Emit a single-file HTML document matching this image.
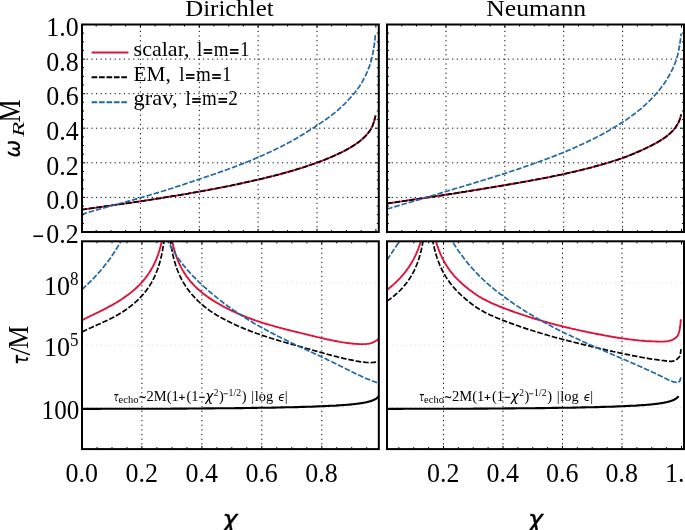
<!DOCTYPE html><html><head><meta charset="utf-8"><title>QNM plot</title>
<style>html,body{margin:0;padding:0;background:#fff}svg{display:block}text{font-family:"Liberation Serif",serif;fill:#000}.sf{font-family:"DejaVu Sans",sans-serif;font-style:italic}.sn{font-family:"DejaVu Sans",sans-serif}</style></head><body>
<svg width="685" height="530" viewBox="0 0 685 530">
<rect width="685" height="530" fill="#fff"/>
<defs>
<clipPath id="c0"><rect x="82.0" y="24.5" width="296.8" height="207.5"/></clipPath>
<clipPath id="c1"><rect x="387.0" y="24.5" width="297.0" height="207.5"/></clipPath>
<clipPath id="c2"><rect x="82.0" y="241.3" width="296.8" height="207.8"/></clipPath>
<clipPath id="c3"><rect x="387.0" y="241.3" width="297.0" height="207.8"/></clipPath>
</defs>
<path d="M140.4 232.0V24.5" stroke="#000" stroke-width="1" stroke-dasharray="1.2 3.45" fill="none"/>
<path d="M199.3 232.0V24.5" stroke="#000" stroke-width="1" stroke-dasharray="1.2 3.45" fill="none"/>
<path d="M258.1 232.0V24.5" stroke="#000" stroke-width="1" stroke-dasharray="1.2 3.45" fill="none"/>
<path d="M317.0 232.0V24.5" stroke="#000" stroke-width="1" stroke-dasharray="1.2 3.45" fill="none"/>
<path d="M446.0 232.0V24.5" stroke="#000" stroke-width="1" stroke-dasharray="1.2 3.45" fill="none"/>
<path d="M504.9 232.0V24.5" stroke="#000" stroke-width="1" stroke-dasharray="1.2 3.45" fill="none"/>
<path d="M563.7 232.0V24.5" stroke="#000" stroke-width="1" stroke-dasharray="1.2 3.45" fill="none"/>
<path d="M622.6 232.0V24.5" stroke="#000" stroke-width="1" stroke-dasharray="1.2 3.45" fill="none"/>
<path d="M141.9 449.1V241.3" stroke="#000" stroke-width="1" stroke-dasharray="1.2 3.45" fill="none"/>
<path d="M201.9 449.1V241.3" stroke="#000" stroke-width="1" stroke-dasharray="1.2 3.45" fill="none"/>
<path d="M261.8 449.1V241.3" stroke="#000" stroke-width="1" stroke-dasharray="1.2 3.45" fill="none"/>
<path d="M321.8 449.1V241.3" stroke="#000" stroke-width="1" stroke-dasharray="1.2 3.45" fill="none"/>
<path d="M443.5 449.1V241.3" stroke="#000" stroke-width="1" stroke-dasharray="1.2 3.45" fill="none"/>
<path d="M503.0 449.1V241.3" stroke="#000" stroke-width="1" stroke-dasharray="1.2 3.45" fill="none"/>
<path d="M562.5 449.1V241.3" stroke="#000" stroke-width="1" stroke-dasharray="1.2 3.45" fill="none"/>
<path d="M622.0 449.1V241.3" stroke="#000" stroke-width="1" stroke-dasharray="1.2 3.45" fill="none"/>
<path d="M82.0 197.4H378.8" stroke="#000" stroke-width="1" stroke-dasharray="1.2 3.45" fill="none"/>
<path d="M387.0 197.4H684.0" stroke="#000" stroke-width="1" stroke-dasharray="1.2 3.45" fill="none"/>
<path d="M82.0 162.8H378.8" stroke="#000" stroke-width="1" stroke-dasharray="1.2 3.45" fill="none"/>
<path d="M387.0 162.8H684.0" stroke="#000" stroke-width="1" stroke-dasharray="1.2 3.45" fill="none"/>
<path d="M82.0 128.2H378.8" stroke="#000" stroke-width="1" stroke-dasharray="1.2 3.45" fill="none"/>
<path d="M387.0 128.2H684.0" stroke="#000" stroke-width="1" stroke-dasharray="1.2 3.45" fill="none"/>
<path d="M82.0 93.7H378.8" stroke="#000" stroke-width="1" stroke-dasharray="1.2 3.45" fill="none"/>
<path d="M387.0 93.7H684.0" stroke="#000" stroke-width="1" stroke-dasharray="1.2 3.45" fill="none"/>
<path d="M82.0 59.1H378.8" stroke="#000" stroke-width="1" stroke-dasharray="1.2 3.45" fill="none"/>
<path d="M387.0 59.1H684.0" stroke="#000" stroke-width="1" stroke-dasharray="1.2 3.45" fill="none"/>
<path d="M82.0 407.5H378.8" stroke="#dcdcdc" stroke-width="1" stroke-dasharray="1.2 3.45" fill="none"/>
<path d="M387.0 407.5H684.0" stroke="#dcdcdc" stroke-width="1" stroke-dasharray="1.2 3.45" fill="none"/>
<path d="M82.0 345.2H378.8" stroke="#dcdcdc" stroke-width="1" stroke-dasharray="1.2 3.45" fill="none"/>
<path d="M387.0 345.2H684.0" stroke="#dcdcdc" stroke-width="1" stroke-dasharray="1.2 3.45" fill="none"/>
<path d="M82.0 282.9H378.8" stroke="#dcdcdc" stroke-width="1" stroke-dasharray="1.2 3.45" fill="none"/>
<path d="M387.0 282.9H684.0" stroke="#dcdcdc" stroke-width="1" stroke-dasharray="1.2 3.45" fill="none"/>
<path d="M81.5 209.7L83.3 209.4L85.1 209.2L86.8 208.9L88.6 208.7L90.4 208.4L92.2 208.2L93.9 207.9L95.7 207.7L97.5 207.4L99.3 207.2L101.1 206.9L102.8 206.7L104.6 206.4L106.4 206.1L108.2 205.9L110.0 205.6L111.7 205.4L113.5 205.1L115.3 204.9L117.1 204.6L118.8 204.4L120.6 204.1L122.4 203.9L124.2 203.6L126.0 203.4L127.7 203.1L129.5 202.9L131.3 202.6L133.1 202.4L134.8 202.1L136.6 201.8L138.4 201.6L140.2 201.3L142.0 201.0L143.7 200.8L145.5 200.5L147.3 200.2L149.1 199.9L150.9 199.7L152.6 199.4L154.4 199.1L156.2 198.8L158.0 198.5L159.7 198.3L161.5 198.0L163.3 197.7L165.1 197.4L166.9 197.1L168.6 196.8L170.4 196.5L172.2 196.2L174.0 195.9L175.7 195.7L177.5 195.4L179.3 195.1L181.1 194.8L182.9 194.5L184.6 194.2L186.4 193.9L188.2 193.6L190.0 193.2L191.8 192.9L193.5 192.6L195.3 192.3L197.1 192.0L198.9 191.7L200.6 191.4L202.4 191.0L204.2 190.7L206.0 190.4L207.8 190.1L209.5 189.7L211.3 189.4L213.1 189.1L214.9 188.7L216.6 188.4L218.4 188.0L220.2 187.7L222.0 187.3L223.8 187.0L225.5 186.6L227.3 186.3L229.1 185.9L230.9 185.6L232.7 185.2L234.4 184.8L236.2 184.5L238.0 184.1L239.8 183.7L241.5 183.3L243.3 182.9L245.1 182.5L246.9 182.1L248.7 181.7L250.4 181.3L252.2 180.9L254.0 180.5L255.8 180.1L257.5 179.7L259.3 179.3L261.1 178.9L262.9 178.5L264.7 178.0L266.4 177.6L268.2 177.2L270.0 176.7L271.8 176.3L273.6 175.8L275.3 175.4L277.1 174.9L278.9 174.5L280.7 174.0L282.4 173.5L284.2 173.0L286.0 172.5L287.8 172.0L289.6 171.5L291.3 171.0L293.1 170.5L294.9 170.0L296.7 169.4L298.4 168.9L300.2 168.3L302.0 167.8L303.8 167.2L305.6 166.6L307.3 166.0L309.1 165.4L310.9 164.8L312.7 164.2L314.5 163.6L316.2 162.9L318.0 162.3L319.8 161.6L321.6 161.0L323.3 160.3L325.1 159.6L326.9 158.8L328.7 158.1L330.5 157.3L332.2 156.6L334.0 155.8L335.8 155.0L337.6 154.2L339.3 153.3L341.1 152.5L342.9 151.6L344.7 150.7L346.5 149.7L346.8 149.6L347.1 149.4L347.4 149.2L347.7 149.1L347.9 148.9L348.2 148.7L348.5 148.6L348.8 148.4L349.1 148.2L349.4 148.1L349.7 147.9L350.0 147.7L350.3 147.5L350.6 147.4L350.9 147.2L351.2 147.0L351.5 146.8L351.8 146.6L352.1 146.5L352.4 146.3L352.7 146.1L353.0 145.9L353.3 145.7L353.6 145.5L353.9 145.3L354.2 145.1L354.5 144.9L354.8 144.8L355.1 144.6L355.4 144.4L355.7 144.1L356.0 143.9L356.3 143.7L356.6 143.5L356.9 143.3L357.2 143.1L357.5 142.9L357.8 142.7L358.1 142.5L358.4 142.2L358.7 142.0L359.0 141.8L359.3 141.6L359.6 141.3L359.9 141.1L360.2 140.9L360.5 140.6L360.7 140.4L361.0 140.1L361.3 139.9L361.6 139.6L361.9 139.4L362.2 139.1L362.5 138.8L362.8 138.6L363.1 138.3L363.4 138.0L363.7 137.8L364.0 137.5L364.3 137.2L364.6 136.9L364.9 136.6L365.2 136.3L365.5 136.0L365.8 135.7L366.1 135.4L366.4 135.0L366.7 134.7L367.0 134.4L367.3 134.0L367.6 133.6L367.9 133.3L368.2 132.9L368.5 132.5L368.8 132.1L369.1 131.7L369.4 131.3L369.7 130.9L370.0 130.4L370.3 130.0L370.6 129.5L370.9 129.0L371.2 128.5L371.5 127.9L371.8 127.4L372.1 126.7L372.4 126.1L372.7 125.4L373.0 124.6L373.0 124.5L373.0 124.4L373.1 124.3L373.1 124.2L373.1 124.1L373.2 124.0L373.2 123.9L373.2 123.8L373.3 123.7L373.3 123.6L373.4 123.5L373.4 123.4L373.4 123.3L373.5 123.2L373.5 123.1L373.5 123.0L373.6 122.9L373.6 122.8L373.7 122.7L373.7 122.6L373.7 122.5L373.8 122.4L373.8 122.3L373.8 122.2L373.9 122.0L373.9 121.9L373.9 121.8L374.0 121.7L374.0 121.6L374.1 121.5L374.1 121.4L374.1 121.2L374.2 121.1L374.2 121.0L374.2 120.9L374.3 120.8L374.3 120.6L374.4 120.5L374.4 120.4L374.4 120.3L374.5 120.1L374.5 120.0L374.5 119.9L374.6 119.7L374.6 119.6L374.6 119.5L374.7 119.3L374.7 119.2L374.8 119.0L374.8 118.9L374.8 118.7L374.9 118.6L374.9 118.4L374.9 118.3L375.0 118.1L375.0 118.0L375.0 117.8L375.1 117.6L375.1 117.5L375.2 117.3L375.2 117.1L375.2 116.9L375.3 116.8L375.3 116.6L375.3 116.4L375.4 116.2L375.4 116.0L375.5 115.7L375.5 115.5" fill="none" stroke="#dc143c" stroke-width="1.90" stroke-linejoin="round"  clip-path="url(#c0)"/>
<path d="M81.5 209.7L83.3 209.4L85.1 209.2L86.8 208.9L88.6 208.7L90.4 208.4L92.2 208.2L93.9 207.9L95.7 207.7L97.5 207.4L99.3 207.2L101.1 206.9L102.8 206.7L104.6 206.4L106.4 206.1L108.2 205.9L110.0 205.6L111.7 205.4L113.5 205.1L115.3 204.9L117.1 204.6L118.8 204.4L120.6 204.1L122.4 203.9L124.2 203.6L126.0 203.4L127.7 203.1L129.5 202.9L131.3 202.6L133.1 202.4L134.8 202.1L136.6 201.8L138.4 201.6L140.2 201.3L142.0 201.0L143.7 200.8L145.5 200.5L147.3 200.2L149.1 199.9L150.9 199.7L152.6 199.4L154.4 199.1L156.2 198.8L158.0 198.5L159.7 198.3L161.5 198.0L163.3 197.7L165.1 197.4L166.9 197.1L168.6 196.8L170.4 196.5L172.2 196.2L174.0 195.9L175.7 195.7L177.5 195.4L179.3 195.1L181.1 194.8L182.9 194.5L184.6 194.2L186.4 193.9L188.2 193.6L190.0 193.2L191.8 192.9L193.5 192.6L195.3 192.3L197.1 192.0L198.9 191.7L200.6 191.4L202.4 191.0L204.2 190.7L206.0 190.4L207.8 190.1L209.5 189.7L211.3 189.4L213.1 189.1L214.9 188.7L216.6 188.4L218.4 188.0L220.2 187.7L222.0 187.3L223.8 187.0L225.5 186.6L227.3 186.3L229.1 185.9L230.9 185.6L232.7 185.2L234.4 184.8L236.2 184.5L238.0 184.1L239.8 183.7L241.5 183.3L243.3 182.9L245.1 182.5L246.9 182.1L248.7 181.7L250.4 181.3L252.2 180.9L254.0 180.5L255.8 180.1L257.5 179.7L259.3 179.3L261.1 178.9L262.9 178.5L264.7 178.0L266.4 177.6L268.2 177.2L270.0 176.7L271.8 176.3L273.6 175.8L275.3 175.4L277.1 174.9L278.9 174.5L280.7 174.0L282.4 173.5L284.2 173.0L286.0 172.5L287.8 172.0L289.6 171.5L291.3 171.0L293.1 170.5L294.9 170.0L296.7 169.4L298.4 168.9L300.2 168.3L302.0 167.8L303.8 167.2L305.6 166.6L307.3 166.0L309.1 165.4L310.9 164.8L312.7 164.2L314.5 163.6L316.2 162.9L318.0 162.3L319.8 161.6L321.6 161.0L323.3 160.3L325.1 159.6L326.9 158.8L328.7 158.1L330.5 157.3L332.2 156.6L334.0 155.8L335.8 155.0L337.6 154.2L339.3 153.3L341.1 152.5L342.9 151.6L344.7 150.7L346.5 149.7L346.8 149.6L347.1 149.4L347.4 149.2L347.7 149.1L347.9 148.9L348.2 148.7L348.5 148.6L348.8 148.4L349.1 148.2L349.4 148.1L349.7 147.9L350.0 147.7L350.3 147.5L350.6 147.4L350.9 147.2L351.2 147.0L351.5 146.8L351.8 146.6L352.1 146.5L352.4 146.3L352.7 146.1L353.0 145.9L353.3 145.7L353.6 145.5L353.9 145.3L354.2 145.1L354.5 144.9L354.8 144.8L355.1 144.6L355.4 144.4L355.7 144.1L356.0 143.9L356.3 143.7L356.6 143.5L356.9 143.3L357.2 143.1L357.5 142.9L357.8 142.7L358.1 142.5L358.4 142.2L358.7 142.0L359.0 141.8L359.3 141.6L359.6 141.3L359.9 141.1L360.2 140.9L360.5 140.6L360.7 140.4L361.0 140.1L361.3 139.9L361.6 139.6L361.9 139.4L362.2 139.1L362.5 138.8L362.8 138.6L363.1 138.3L363.4 138.0L363.7 137.8L364.0 137.5L364.3 137.2L364.6 136.9L364.9 136.6L365.2 136.3L365.5 136.0L365.8 135.7L366.1 135.4L366.4 135.0L366.7 134.7L367.0 134.4L367.3 134.0L367.6 133.6L367.9 133.3L368.2 132.9L368.5 132.5L368.8 132.1L369.1 131.7L369.4 131.3L369.7 130.9L370.0 130.4L370.3 130.0L370.6 129.5L370.9 129.0L371.2 128.5L371.5 127.9L371.8 127.4L372.1 126.7L372.4 126.1L372.7 125.4L373.0 124.6L373.0 124.5L373.0 124.4L373.1 124.3L373.1 124.2L373.1 124.1L373.2 124.0L373.2 123.9L373.2 123.8L373.3 123.7L373.3 123.6L373.4 123.5L373.4 123.4L373.4 123.3L373.5 123.2L373.5 123.1L373.5 123.0L373.6 122.9L373.6 122.8L373.7 122.7L373.7 122.6L373.7 122.5L373.8 122.4L373.8 122.3L373.8 122.2L373.9 122.0L373.9 121.9L373.9 121.8L374.0 121.7L374.0 121.6L374.1 121.5L374.1 121.4L374.1 121.2L374.2 121.1L374.2 121.0L374.2 120.9L374.3 120.8L374.3 120.6L374.4 120.5L374.4 120.4L374.4 120.3L374.5 120.1L374.5 120.0L374.5 119.9L374.6 119.7L374.6 119.6L374.6 119.5L374.7 119.3L374.7 119.2L374.8 119.0L374.8 118.9L374.8 118.7L374.9 118.6L374.9 118.4L374.9 118.3L375.0 118.1L375.0 118.0L375.0 117.8L375.1 117.6L375.1 117.5L375.2 117.3L375.2 117.1L375.2 116.9L375.3 116.8L375.3 116.6L375.3 116.4L375.4 116.2L375.4 116.0L375.5 115.7L375.5 115.5" fill="none" stroke="#000" stroke-width="1.70" stroke-linejoin="round" stroke-dasharray="5.6 1.9" clip-path="url(#c0)"/>
<path d="M81.5 214.4L83.3 213.9L85.1 213.4L86.8 212.8L88.6 212.3L90.4 211.8L92.2 211.3L93.9 210.8L95.7 210.3L97.5 209.8L99.3 209.3L101.1 208.8L102.8 208.3L104.6 207.8L106.4 207.2L108.2 206.7L110.0 206.2L111.7 205.7L113.5 205.2L115.3 204.7L117.1 204.3L118.8 203.8L120.6 203.3L122.4 202.8L124.2 202.3L126.0 201.9L127.7 201.4L129.5 200.9L131.3 200.4L133.1 199.9L134.8 199.4L136.6 198.9L138.4 198.4L140.2 197.9L142.0 197.4L143.7 196.9L145.5 196.3L147.3 195.8L149.1 195.3L150.9 194.7L152.6 194.2L154.4 193.7L156.2 193.1L158.0 192.6L159.7 192.1L161.5 191.5L163.3 191.0L165.1 190.4L166.9 189.9L168.6 189.3L170.4 188.8L172.2 188.2L174.0 187.6L175.7 187.0L177.5 186.4L179.3 185.9L181.1 185.3L182.9 184.7L184.6 184.1L186.4 183.5L188.2 182.9L190.0 182.3L191.8 181.7L193.5 181.1L195.3 180.5L197.1 179.9L198.9 179.3L200.6 178.7L202.4 178.1L204.2 177.5L206.0 176.9L207.8 176.3L209.5 175.7L211.3 175.1L213.1 174.5L214.9 173.9L216.6 173.2L218.4 172.6L220.2 172.0L222.0 171.4L223.8 170.8L225.5 170.1L227.3 169.5L229.1 168.8L230.9 168.2L232.7 167.5L234.4 166.9L236.2 166.2L238.0 165.5L239.8 164.8L241.5 164.1L243.3 163.4L245.1 162.7L246.9 162.0L248.7 161.3L250.4 160.6L252.2 159.8L254.0 159.1L255.8 158.3L257.5 157.6L259.3 156.8L261.1 156.0L262.9 155.3L264.7 154.5L266.4 153.7L268.2 152.8L270.0 152.0L271.8 151.2L273.6 150.3L275.3 149.5L277.1 148.6L278.9 147.7L280.7 146.8L282.4 145.9L284.2 145.0L286.0 144.1L287.8 143.1L289.6 142.2L291.3 141.2L293.1 140.2L294.9 139.2L296.7 138.2L298.4 137.1L300.2 136.1L302.0 135.0L303.8 133.9L305.6 132.8L307.3 131.7L309.1 130.6L310.9 129.5L312.7 128.3L314.5 127.2L316.2 126.0L318.0 124.8L319.8 123.6L321.6 122.4L323.3 121.2L325.1 120.0L326.9 118.7L328.7 117.4L330.5 116.1L332.2 114.7L334.0 113.3L335.8 111.9L337.6 110.4L339.3 108.8L341.1 107.2L342.9 105.5L344.7 103.8L346.5 102.0L346.8 101.7L347.1 101.4L347.4 101.0L347.7 100.7L347.9 100.4L348.2 100.1L348.5 99.8L348.8 99.5L349.1 99.1L349.4 98.8L349.7 98.5L350.0 98.1L350.3 97.8L350.6 97.5L350.9 97.1L351.2 96.8L351.5 96.5L351.8 96.1L352.1 95.8L352.4 95.4L352.7 95.1L353.0 94.7L353.3 94.4L353.6 94.0L353.9 93.6L354.2 93.3L354.5 92.9L354.8 92.5L355.1 92.2L355.4 91.8L355.7 91.4L356.0 91.0L356.3 90.7L356.6 90.3L356.9 89.9L357.2 89.5L357.5 89.1L357.8 88.7L358.1 88.3L358.4 87.8L358.7 87.4L359.0 87.0L359.3 86.6L359.6 86.1L359.9 85.7L360.2 85.2L360.5 84.8L360.7 84.3L361.0 83.9L361.3 83.4L361.6 82.9L361.9 82.4L362.2 81.9L362.5 81.4L362.8 80.8L363.1 80.3L363.4 79.8L363.7 79.2L364.0 78.6L364.3 78.1L364.6 77.5L364.9 76.9L365.2 76.3L365.5 75.6L365.8 75.0L366.1 74.3L366.4 73.7L366.7 73.0L367.0 72.3L367.3 71.6L367.6 70.9L367.9 70.2L368.2 69.4L368.5 68.7L368.8 67.9L369.1 67.1L369.4 66.3L369.7 65.4L370.0 64.5L370.3 63.6L370.6 62.6L370.9 61.6L371.2 60.6L371.5 59.5L371.8 58.3L372.1 57.1L372.4 55.7L372.7 54.3L373.0 52.7L373.0 52.5L373.0 52.3L373.1 52.1L373.1 51.9L373.1 51.7L373.2 51.5L373.2 51.3L373.2 51.1L373.3 50.9L373.3 50.7L373.4 50.5L373.4 50.2L373.4 50.0L373.5 49.8L373.5 49.6L373.5 49.4L373.6 49.2L373.6 48.9L373.7 48.7L373.7 48.5L373.7 48.3L373.8 48.0L373.8 47.8L373.8 47.6L373.9 47.3L373.9 47.1L373.9 46.9L374.0 46.6L374.0 46.4L374.1 46.1L374.1 45.9L374.1 45.7L374.2 45.4L374.2 45.2L374.2 44.9L374.3 44.7L374.3 44.4L374.4 44.1L374.4 43.9L374.4 43.6L374.5 43.3L374.5 43.1L374.5 42.8L374.6 42.5L374.6 42.2L374.6 42.0L374.7 41.7L374.7 41.4L374.8 41.1L374.8 40.8L374.8 40.5L374.9 40.1L374.9 39.8L374.9 39.5L375.0 39.2L375.0 38.8L375.0 38.5L375.1 38.1L375.1 37.8L375.2 37.4L375.2 37.0L375.2 36.7L375.3 36.3L375.3 35.9L375.3 35.5L375.4 35.0L375.4 34.6L375.5 34.2L375.5 33.7" fill="none" stroke="#2068a5" stroke-width="1.70" stroke-linejoin="round" stroke-dasharray="5.6 1.9" clip-path="url(#c0)"/>
<path d="M387.1 203.5L388.9 203.2L390.7 202.9L392.4 202.7L394.2 202.4L396.0 202.2L397.8 201.9L399.5 201.6L401.3 201.4L403.1 201.1L404.9 200.9L406.7 200.6L408.4 200.3L410.2 200.1L412.0 199.8L413.8 199.5L415.6 199.3L417.3 199.0L419.1 198.8L420.9 198.5L422.7 198.2L424.4 198.0L426.2 197.7L428.0 197.4L429.8 197.2L431.6 196.9L433.3 196.6L435.1 196.4L436.9 196.1L438.7 195.8L440.4 195.6L442.2 195.3L444.0 195.0L445.8 194.8L447.6 194.5L449.3 194.2L451.1 193.9L452.9 193.7L454.7 193.4L456.5 193.1L458.2 192.8L460.0 192.5L461.8 192.2L463.6 191.9L465.3 191.7L467.1 191.4L468.9 191.1L470.7 190.8L472.5 190.5L474.2 190.2L476.0 189.9L477.8 189.6L479.6 189.4L481.3 189.1L483.1 188.8L484.9 188.5L486.7 188.2L488.5 187.9L490.2 187.6L492.0 187.3L493.8 187.0L495.6 186.7L497.4 186.4L499.1 186.1L500.9 185.8L502.7 185.5L504.5 185.2L506.2 184.9L508.0 184.6L509.8 184.3L511.6 184.0L513.4 183.7L515.1 183.4L516.9 183.1L518.7 182.8L520.5 182.5L522.2 182.1L524.0 181.8L525.8 181.5L527.6 181.2L529.4 180.9L531.1 180.5L532.9 180.2L534.7 179.9L536.5 179.5L538.3 179.2L540.0 178.9L541.8 178.5L543.6 178.2L545.4 177.8L547.1 177.5L548.9 177.1L550.7 176.8L552.5 176.4L554.3 176.0L556.0 175.7L557.8 175.3L559.6 174.9L561.4 174.6L563.1 174.2L564.9 173.8L566.7 173.4L568.5 173.0L570.3 172.6L572.0 172.2L573.8 171.8L575.6 171.4L577.4 170.9L579.2 170.5L580.9 170.1L582.7 169.6L584.5 169.2L586.3 168.7L588.0 168.3L589.8 167.8L591.6 167.4L593.4 166.9L595.2 166.4L596.9 165.9L598.7 165.4L600.5 165.0L602.3 164.4L604.0 163.9L605.8 163.4L607.6 162.9L609.4 162.3L611.2 161.8L612.9 161.2L614.7 160.7L616.5 160.1L618.3 159.5L620.1 158.9L621.8 158.3L623.6 157.6L625.4 157.0L627.2 156.3L628.9 155.6L630.7 154.9L632.5 154.2L634.3 153.4L636.1 152.6L637.8 151.9L639.6 151.1L641.4 150.3L643.2 149.5L644.9 148.7L646.7 147.8L648.5 147.0L650.3 146.1L652.1 145.2L652.4 145.1L652.7 144.9L653.0 144.8L653.3 144.6L653.5 144.4L653.8 144.3L654.1 144.1L654.4 144.0L654.7 143.8L655.0 143.6L655.3 143.5L655.6 143.3L655.9 143.2L656.2 143.0L656.5 142.8L656.8 142.7L657.1 142.5L657.4 142.3L657.7 142.1L658.0 142.0L658.3 141.8L658.6 141.6L658.9 141.4L659.2 141.3L659.5 141.1L659.8 140.9L660.1 140.7L660.4 140.5L660.7 140.3L661.0 140.2L661.3 140.0L661.6 139.8L661.9 139.6L662.2 139.4L662.5 139.2L662.8 139.0L663.1 138.8L663.4 138.6L663.7 138.4L664.0 138.2L664.3 138.0L664.6 137.8L664.9 137.6L665.2 137.3L665.5 137.1L665.8 136.9L666.1 136.7L666.3 136.5L666.6 136.2L666.9 136.0L667.2 135.8L667.5 135.5L667.8 135.3L668.1 135.0L668.4 134.8L668.7 134.5L669.0 134.3L669.3 134.0L669.6 133.8L669.9 133.5L670.2 133.2L670.5 133.0L670.8 132.7L671.1 132.4L671.4 132.1L671.7 131.8L672.0 131.5L672.3 131.2L672.6 130.9L672.9 130.6L673.2 130.2L673.5 129.9L673.8 129.5L674.1 129.2L674.4 128.8L674.7 128.4L675.0 128.1L675.3 127.7L675.6 127.2L675.9 126.8L676.2 126.4L676.5 125.9L676.8 125.5L677.1 125.0L677.4 124.5L677.7 124.0L678.0 123.4L678.3 122.9L678.6 122.3L678.6 122.2L678.6 122.1L678.7 122.1L678.7 122.0L678.7 121.9L678.8 121.8L678.8 121.7L678.8 121.7L678.9 121.6L678.9 121.5L679.0 121.4L679.0 121.3L679.0 121.3L679.1 121.2L679.1 121.1L679.1 121.0L679.2 120.9L679.2 120.8L679.3 120.7L679.3 120.7L679.3 120.6L679.4 120.5L679.4 120.4L679.4 120.3L679.5 120.2L679.5 120.1L679.5 120.0L679.6 119.9L679.6 119.8L679.7 119.7L679.7 119.6L679.7 119.5L679.8 119.4L679.8 119.3L679.8 119.2L679.9 119.1L679.9 119.0L680.0 118.9L680.0 118.8L680.0 118.7L680.1 118.6L680.1 118.5L680.1 118.4L680.2 118.2L680.2 118.1L680.2 118.0L680.3 117.9L680.3 117.8L680.4 117.6L680.4 117.5L680.4 117.4L680.5 117.2L680.5 117.1L680.5 117.0L680.6 116.8L680.6 116.7L680.6 116.5L680.7 116.4L680.7 116.2L680.8 116.1L680.8 115.9L680.8 115.7L680.9 115.6L680.9 115.4L680.9 115.2L681.0 115.0L681.0 114.8L681.1 114.6L681.1 114.4" fill="none" stroke="#dc143c" stroke-width="1.90" stroke-linejoin="round"  clip-path="url(#c1)"/>
<path d="M387.1 203.5L388.9 203.2L390.7 202.9L392.4 202.7L394.2 202.4L396.0 202.2L397.8 201.9L399.5 201.6L401.3 201.4L403.1 201.1L404.9 200.9L406.7 200.6L408.4 200.3L410.2 200.1L412.0 199.8L413.8 199.5L415.6 199.3L417.3 199.0L419.1 198.8L420.9 198.5L422.7 198.2L424.4 198.0L426.2 197.7L428.0 197.4L429.8 197.2L431.6 196.9L433.3 196.6L435.1 196.4L436.9 196.1L438.7 195.8L440.4 195.6L442.2 195.3L444.0 195.0L445.8 194.8L447.6 194.5L449.3 194.2L451.1 193.9L452.9 193.7L454.7 193.4L456.5 193.1L458.2 192.8L460.0 192.5L461.8 192.2L463.6 191.9L465.3 191.7L467.1 191.4L468.9 191.1L470.7 190.8L472.5 190.5L474.2 190.2L476.0 189.9L477.8 189.6L479.6 189.4L481.3 189.1L483.1 188.8L484.9 188.5L486.7 188.2L488.5 187.9L490.2 187.6L492.0 187.3L493.8 187.0L495.6 186.7L497.4 186.4L499.1 186.1L500.9 185.8L502.7 185.5L504.5 185.2L506.2 184.9L508.0 184.6L509.8 184.3L511.6 184.0L513.4 183.7L515.1 183.4L516.9 183.1L518.7 182.8L520.5 182.5L522.2 182.1L524.0 181.8L525.8 181.5L527.6 181.2L529.4 180.9L531.1 180.5L532.9 180.2L534.7 179.9L536.5 179.5L538.3 179.2L540.0 178.9L541.8 178.5L543.6 178.2L545.4 177.8L547.1 177.5L548.9 177.1L550.7 176.8L552.5 176.4L554.3 176.0L556.0 175.7L557.8 175.3L559.6 174.9L561.4 174.6L563.1 174.2L564.9 173.8L566.7 173.4L568.5 173.0L570.3 172.6L572.0 172.2L573.8 171.8L575.6 171.4L577.4 170.9L579.2 170.5L580.9 170.1L582.7 169.6L584.5 169.2L586.3 168.7L588.0 168.3L589.8 167.8L591.6 167.4L593.4 166.9L595.2 166.4L596.9 165.9L598.7 165.4L600.5 165.0L602.3 164.4L604.0 163.9L605.8 163.4L607.6 162.9L609.4 162.3L611.2 161.8L612.9 161.2L614.7 160.7L616.5 160.1L618.3 159.5L620.1 158.9L621.8 158.3L623.6 157.6L625.4 157.0L627.2 156.3L628.9 155.6L630.7 154.9L632.5 154.2L634.3 153.4L636.1 152.6L637.8 151.9L639.6 151.1L641.4 150.3L643.2 149.5L644.9 148.7L646.7 147.8L648.5 147.0L650.3 146.1L652.1 145.2L652.4 145.1L652.7 144.9L653.0 144.8L653.3 144.6L653.5 144.4L653.8 144.3L654.1 144.1L654.4 144.0L654.7 143.8L655.0 143.6L655.3 143.5L655.6 143.3L655.9 143.2L656.2 143.0L656.5 142.8L656.8 142.7L657.1 142.5L657.4 142.3L657.7 142.1L658.0 142.0L658.3 141.8L658.6 141.6L658.9 141.4L659.2 141.3L659.5 141.1L659.8 140.9L660.1 140.7L660.4 140.5L660.7 140.3L661.0 140.2L661.3 140.0L661.6 139.8L661.9 139.6L662.2 139.4L662.5 139.2L662.8 139.0L663.1 138.8L663.4 138.6L663.7 138.4L664.0 138.2L664.3 138.0L664.6 137.8L664.9 137.6L665.2 137.3L665.5 137.1L665.8 136.9L666.1 136.7L666.3 136.5L666.6 136.2L666.9 136.0L667.2 135.8L667.5 135.5L667.8 135.3L668.1 135.0L668.4 134.8L668.7 134.5L669.0 134.3L669.3 134.0L669.6 133.8L669.9 133.5L670.2 133.2L670.5 133.0L670.8 132.7L671.1 132.4L671.4 132.1L671.7 131.8L672.0 131.5L672.3 131.2L672.6 130.9L672.9 130.6L673.2 130.2L673.5 129.9L673.8 129.5L674.1 129.2L674.4 128.8L674.7 128.4L675.0 128.1L675.3 127.7L675.6 127.2L675.9 126.8L676.2 126.4L676.5 125.9L676.8 125.5L677.1 125.0L677.4 124.5L677.7 124.0L678.0 123.4L678.3 122.9L678.6 122.3L678.6 122.2L678.6 122.1L678.7 122.1L678.7 122.0L678.7 121.9L678.8 121.8L678.8 121.7L678.8 121.7L678.9 121.6L678.9 121.5L679.0 121.4L679.0 121.3L679.0 121.3L679.1 121.2L679.1 121.1L679.1 121.0L679.2 120.9L679.2 120.8L679.3 120.7L679.3 120.7L679.3 120.6L679.4 120.5L679.4 120.4L679.4 120.3L679.5 120.2L679.5 120.1L679.5 120.0L679.6 119.9L679.6 119.8L679.7 119.7L679.7 119.6L679.7 119.5L679.8 119.4L679.8 119.3L679.8 119.2L679.9 119.1L679.9 119.0L680.0 118.9L680.0 118.8L680.0 118.7L680.1 118.6L680.1 118.5L680.1 118.4L680.2 118.2L680.2 118.1L680.2 118.0L680.3 117.9L680.3 117.8L680.4 117.6L680.4 117.5L680.4 117.4L680.5 117.2L680.5 117.1L680.5 117.0L680.6 116.8L680.6 116.7L680.6 116.5L680.7 116.4L680.7 116.2L680.8 116.1L680.8 115.9L680.8 115.7L680.9 115.6L680.9 115.4L680.9 115.2L681.0 115.0L681.0 114.8L681.1 114.6L681.1 114.4" fill="none" stroke="#000" stroke-width="1.70" stroke-linejoin="round" stroke-dasharray="5.6 1.9" clip-path="url(#c1)"/>
<path d="M387.1 209.0L388.9 208.5L390.7 208.0L392.4 207.4L394.2 206.9L396.0 206.4L397.8 205.9L399.5 205.3L401.3 204.8L403.1 204.3L404.9 203.8L406.7 203.3L408.4 202.7L410.2 202.2L412.0 201.7L413.8 201.2L415.6 200.6L417.3 200.1L419.1 199.6L420.9 199.0L422.7 198.5L424.4 198.0L426.2 197.4L428.0 196.9L429.8 196.4L431.6 195.8L433.3 195.3L435.1 194.7L436.9 194.2L438.7 193.7L440.4 193.1L442.2 192.6L444.0 192.0L445.8 191.5L447.6 191.0L449.3 190.4L451.1 189.9L452.9 189.4L454.7 188.8L456.5 188.3L458.2 187.8L460.0 187.3L461.8 186.7L463.6 186.2L465.3 185.7L467.1 185.1L468.9 184.6L470.7 184.1L472.5 183.5L474.2 183.0L476.0 182.4L477.8 181.9L479.6 181.4L481.3 180.8L483.1 180.3L484.9 179.7L486.7 179.2L488.5 178.6L490.2 178.1L492.0 177.5L493.8 177.0L495.6 176.4L497.4 175.8L499.1 175.3L500.9 174.7L502.7 174.1L504.5 173.6L506.2 173.0L508.0 172.4L509.8 171.8L511.6 171.2L513.4 170.6L515.1 170.1L516.9 169.5L518.7 168.9L520.5 168.3L522.2 167.7L524.0 167.0L525.8 166.4L527.6 165.8L529.4 165.2L531.1 164.6L532.9 163.9L534.7 163.3L536.5 162.7L538.3 162.0L540.0 161.4L541.8 160.7L543.6 160.1L545.4 159.4L547.1 158.8L548.9 158.1L550.7 157.4L552.5 156.8L554.3 156.1L556.0 155.4L557.8 154.7L559.6 154.0L561.4 153.3L563.1 152.6L564.9 151.8L566.7 151.1L568.5 150.3L570.3 149.6L572.0 148.8L573.8 148.0L575.6 147.2L577.4 146.4L579.2 145.6L580.9 144.8L582.7 144.0L584.5 143.1L586.3 142.3L588.0 141.4L589.8 140.6L591.6 139.7L593.4 138.8L595.2 137.9L596.9 137.0L598.7 136.1L600.5 135.2L602.3 134.2L604.0 133.2L605.8 132.3L607.6 131.3L609.4 130.3L611.2 129.2L612.9 128.2L614.7 127.1L616.5 126.1L618.3 125.0L620.1 123.8L621.8 122.7L623.6 121.5L625.4 120.4L627.2 119.1L628.9 117.9L630.7 116.6L632.5 115.3L634.3 114.0L636.1 112.6L637.8 111.2L639.6 109.8L641.4 108.3L643.2 106.7L644.9 105.2L646.7 103.5L648.5 101.8L650.3 100.0L652.1 98.2L652.4 97.9L652.7 97.6L653.0 97.3L653.3 96.9L653.5 96.6L653.8 96.3L654.1 96.0L654.4 95.6L654.7 95.3L655.0 95.0L655.3 94.6L655.6 94.3L655.9 94.0L656.2 93.6L656.5 93.3L656.8 92.9L657.1 92.6L657.4 92.2L657.7 91.9L658.0 91.5L658.3 91.2L658.6 90.8L658.9 90.4L659.2 90.1L659.5 89.7L659.8 89.3L660.1 88.9L660.4 88.6L660.7 88.2L661.0 87.8L661.3 87.4L661.6 87.0L661.9 86.6L662.2 86.2L662.5 85.8L662.8 85.4L663.1 85.0L663.4 84.6L663.7 84.2L664.0 83.7L664.3 83.3L664.6 82.9L664.9 82.4L665.2 82.0L665.5 81.5L665.8 81.1L666.1 80.6L666.3 80.2L666.6 79.7L666.9 79.2L667.2 78.8L667.5 78.3L667.8 77.8L668.1 77.3L668.4 76.8L668.7 76.3L669.0 75.8L669.3 75.2L669.6 74.7L669.9 74.2L670.2 73.6L670.5 73.1L670.8 72.5L671.1 71.9L671.4 71.3L671.7 70.7L672.0 70.1L672.3 69.5L672.6 68.9L672.9 68.2L673.2 67.5L673.5 66.9L673.8 66.2L674.1 65.5L674.4 64.7L674.7 64.0L675.0 63.2L675.3 62.4L675.6 61.6L675.9 60.8L676.2 59.9L676.5 59.0L676.8 58.0L677.1 57.1L677.4 56.0L677.7 54.9L678.0 53.6L678.3 52.3L678.6 51.0L678.6 50.8L678.6 50.6L678.7 50.4L678.7 50.2L678.7 50.1L678.8 49.9L678.8 49.7L678.8 49.5L678.9 49.3L678.9 49.1L679.0 48.9L679.0 48.8L679.0 48.6L679.1 48.4L679.1 48.2L679.1 48.0L679.2 47.8L679.2 47.6L679.3 47.4L679.3 47.2L679.3 47.0L679.4 46.8L679.4 46.6L679.4 46.3L679.5 46.1L679.5 45.9L679.5 45.7L679.6 45.5L679.6 45.3L679.7 45.1L679.7 44.8L679.7 44.6L679.8 44.4L679.8 44.2L679.8 43.9L679.9 43.7L679.9 43.5L680.0 43.2L680.0 43.0L680.0 42.7L680.1 42.5L680.1 42.3L680.1 42.0L680.2 41.7L680.2 41.5L680.2 41.2L680.3 41.0L680.3 40.7L680.4 40.4L680.4 40.1L680.4 39.9L680.5 39.6L680.5 39.3L680.5 39.0L680.6 38.7L680.6 38.4L680.6 38.1L680.7 37.7L680.7 37.4L680.8 37.1L680.8 36.7L680.8 36.4L680.9 36.0L680.9 35.6L680.9 35.3L681.0 34.9L681.0 34.5L681.1 34.0L681.1 33.6" fill="none" stroke="#2068a5" stroke-width="1.70" stroke-linejoin="round" stroke-dasharray="5.6 1.9" clip-path="url(#c1)"/>
<path d="M82.0 320.3L83.5 319.5L85.0 318.7L86.5 318.0L88.0 317.2L89.5 316.5L91.0 315.7L92.5 315.0L94.0 314.3L95.5 313.5L97.0 312.8L98.5 312.1L100.0 311.3L101.5 310.6L103.0 309.8L104.5 309.1L106.0 308.3L107.5 307.5L109.0 306.7L110.5 305.9L112.0 305.1L113.5 304.2L115.0 303.4L116.5 302.5L118.0 301.6L119.5 300.6L121.0 299.7L122.5 298.7L124.0 297.6L125.5 296.6L127.0 295.5L128.5 294.4L130.0 293.3L131.5 292.1L133.0 290.8L134.5 289.6L136.0 288.2L137.5 286.8L139.0 285.4L140.5 283.8L142.0 282.2L143.5 280.4L145.0 278.6L146.5 276.6L148.0 274.5L148.4 274.0L148.8 273.4L149.2 272.8L149.6 272.1L150.0 271.5L150.4 270.9L150.8 270.2L151.2 269.5L151.6 268.8L152.0 268.1L152.4 267.4L152.8 266.7L153.2 265.9L153.6 265.1L154.0 264.3L154.4 263.5L154.8 262.6L155.2 261.7L155.6 260.8L156.0 259.9L156.4 258.9L156.8 257.9L157.2 256.9L157.6 255.8L158.0 254.7L158.4 253.5L158.8 252.3L159.2 251.1L159.6 249.7L160.0 248.3L160.4 246.9L160.8 245.3L161.2 243.7L161.4 243.0L161.5 242.4L161.7 241.7L161.8 241.0L162.0 240.3L162.1 239.6L162.3 238.8L162.4 238.0L162.6 237.2L162.7 236.4L162.9 235.6L163.0 234.7L163.2 233.8L163.3 232.9L163.5 231.9" fill="none" stroke="#dc143c" stroke-width="1.90" stroke-linejoin="round"  clip-path="url(#c2)"/>
<path d="M170.6 231.9L170.8 232.9L170.9 233.9L171.1 234.8L171.2 235.8L171.4 236.6L171.5 237.5L171.7 238.3L171.8 239.1L172.0 239.9L172.1 240.7L172.3 241.4L172.4 242.1L172.6 242.8L172.7 243.5L172.9 244.2L173.0 244.8L173.4 246.5L173.8 248.0L174.2 249.5L174.6 250.9L175.0 252.2L175.4 253.5L175.8 254.7L176.2 255.9L176.6 257.0L177.0 258.1L177.4 259.2L177.8 260.2L178.2 261.1L178.6 262.1L179.0 263.0L179.4 263.9L179.8 264.7L180.2 265.5L180.6 266.3L181.0 267.1L181.4 267.9L181.8 268.6L182.2 269.4L182.6 270.1L183.0 270.8L183.4 271.4L183.8 272.1L184.2 272.7L184.6 273.4L185.0 274.0L185.4 274.6L185.8 275.2L186.2 275.8L186.6 276.3L187.0 276.9L188.5 278.9L190.0 280.8L191.5 282.5L193.0 284.2L194.5 285.8L196.0 287.3L197.5 288.7L199.0 290.0L200.5 291.3L202.0 292.6L203.5 293.8L205.0 294.9L206.5 296.0L208.0 297.1L209.5 298.1L211.0 299.1L212.5 300.1L214.0 301.1L215.5 302.0L217.0 302.9L218.5 303.7L220.0 304.6L221.5 305.4L223.0 306.3L224.5 307.1L226.0 307.8L227.5 308.6L229.0 309.4L230.5 310.1L232.0 310.8L233.5 311.6L235.0 312.2L236.5 312.9L238.0 313.6L239.5 314.2L241.0 314.9L242.5 315.5L244.0 316.1L245.5 316.7L247.0 317.3L248.5 317.9L250.0 318.4L251.5 319.0L253.0 319.5L254.5 320.1L256.0 320.6L257.5 321.1L259.0 321.6L260.5 322.1L262.0 322.6L263.5 323.1L265.0 323.5L266.5 324.0L268.0 324.4L269.5 324.9L271.0 325.3L272.5 325.7L274.0 326.2L275.5 326.6L277.0 327.0L278.5 327.4L280.0 327.8L281.5 328.2L283.0 328.6L284.5 329.0L286.0 329.4L287.5 329.7L289.0 330.1L290.5 330.5L292.0 330.9L293.5 331.2L295.0 331.6L296.5 332.0L298.0 332.3L299.5 332.7L301.0 333.1L302.5 333.4L304.0 333.8L305.5 334.2L307.0 334.5L308.5 334.9L310.0 335.3L311.5 335.6L313.0 336.0L314.5 336.4L316.0 336.7L317.5 337.1L319.0 337.4L320.5 337.8L322.0 338.1L323.5 338.5L325.0 338.8L326.5 339.2L328.0 339.5L329.5 339.8L331.0 340.1L332.5 340.4L334.0 340.8L335.5 341.0L337.0 341.3L338.5 341.6L340.0 341.9L341.5 342.1L343.0 342.4L344.5 342.6L346.0 342.8L347.5 343.0L349.0 343.2L350.5 343.4L352.0 343.5L353.5 343.7L355.0 343.8L356.5 343.9L358.0 344.0L359.5 344.1L361.0 344.1L362.5 344.2L364.0 344.1L365.5 344.1L367.0 343.9L368.5 343.7L370.0 343.4L371.0 343.1L371.2 343.0L371.4 343.0L371.5 343.0L371.6 342.9L371.8 342.8L372.0 342.8L372.2 342.7L372.4 342.6L372.6 342.5L372.8 342.5L373.0 342.4L373.1 342.4L373.3 342.3L373.5 342.2L373.7 342.1L373.9 342.0L374.1 341.9L374.3 341.8L374.5 341.7L374.5 341.7L374.7 341.6L374.9 341.5L375.1 341.4L375.3 341.2L375.5 341.1L375.7 341.0L375.9 340.9L376.0 340.8L376.1 340.7L376.3 340.6L376.5 340.5L376.7 340.3L376.9 340.2L377.2 340.0L377.4 339.9L377.5 339.8L377.6 339.7L377.8 339.6L378.0 339.4L378.2 339.3L378.4 339.1L378.6 338.9L378.8 338.7L379.0 338.6" fill="none" stroke="#dc143c" stroke-width="1.90" stroke-linejoin="round"  clip-path="url(#c2)"/>
<path d="M82.0 331.9L83.5 331.2L85.0 330.4L86.5 329.7L88.0 329.0L89.5 328.3L91.0 327.7L92.5 327.0L94.0 326.3L95.5 325.7L97.0 325.0L98.5 324.3L100.0 323.7L101.5 323.0L103.0 322.3L104.5 321.6L106.0 320.9L107.5 320.2L109.0 319.5L110.5 318.7L112.0 318.0L113.5 317.2L115.0 316.4L116.5 315.6L118.0 314.7L119.5 313.8L121.0 312.9L122.5 312.0L124.0 311.0L125.5 310.0L127.0 308.9L128.5 307.8L130.0 306.7L131.5 305.5L133.0 304.3L134.5 303.0L136.0 301.7L137.5 300.3L139.0 298.9L140.5 297.3L142.0 295.7L143.5 294.0L145.0 292.1L146.5 290.2L148.0 288.1L148.4 287.5L148.8 286.9L149.2 286.3L149.6 285.7L150.0 285.0L150.4 284.4L150.8 283.7L151.2 283.1L151.6 282.4L152.0 281.6L152.4 280.9L152.8 280.2L153.2 279.4L153.6 278.6L154.0 277.8L154.4 276.9L154.8 276.1L155.2 275.2L155.6 274.3L156.0 273.3L156.4 272.3L156.8 271.3L157.2 270.3L157.6 269.2L158.0 268.0L158.4 266.8L158.8 265.6L159.2 264.3L159.6 262.9L160.0 261.5L160.4 260.0L160.8 258.4L161.2 256.7L161.4 256.0L161.5 255.4L161.7 254.7L161.8 253.9L162.0 253.2L162.1 252.4L162.3 251.7L162.4 250.9L162.6 250.1L162.7 249.2L162.9 248.3L163.0 247.4L163.2 246.5L163.3 245.5L163.5 244.5L163.6 243.5L163.8 242.4L163.9 241.3L164.1 240.1L164.2 238.8L164.4 237.5L164.5 236.2L164.7 234.7L164.8 233.2L165.0 231.6" fill="none" stroke="#000" stroke-width="1.70" stroke-linejoin="round" stroke-dasharray="5.6 1.9" clip-path="url(#c2)"/>
<path d="M169.3 231.4L169.5 233.0L169.6 234.4L169.8 235.8L169.9 237.1L170.1 238.4L170.2 239.6L170.4 240.7L170.5 241.8L170.7 242.8L170.8 243.8L171.0 244.8L171.1 245.8L171.3 246.7L171.4 247.5L171.6 248.4L171.7 249.2L171.9 250.0L172.0 250.8L172.2 251.5L172.3 252.3L172.5 253.0L172.6 253.7L172.8 254.4L172.9 255.0L173.1 255.7L173.2 256.3L173.6 257.9L174.0 259.5L174.4 260.9L174.8 262.3L175.2 263.6L175.6 264.9L176.0 266.1L176.4 267.3L176.8 268.4L177.2 269.5L177.6 270.5L178.0 271.5L178.4 272.5L178.8 273.4L179.2 274.3L179.6 275.2L180.0 276.1L180.4 276.9L180.8 277.7L181.2 278.5L181.6 279.3L182.0 280.0L182.4 280.8L182.8 281.5L183.2 282.2L183.6 282.9L184.0 283.5L184.4 284.2L184.8 284.8L185.2 285.4L185.6 286.1L186.0 286.7L186.4 287.2L186.8 287.8L187.2 288.4L188.7 290.4L190.2 292.4L191.7 294.2L193.2 295.9L194.7 297.5L196.2 299.1L197.7 300.6L199.2 302.0L200.7 303.4L202.2 304.7L203.7 306.0L205.2 307.2L206.7 308.4L208.2 309.5L209.7 310.6L211.2 311.6L212.7 312.6L214.2 313.6L215.7 314.5L217.2 315.4L218.7 316.2L220.2 317.1L221.7 317.9L223.2 318.7L224.7 319.5L226.2 320.3L227.7 321.1L229.2 321.8L230.7 322.6L232.2 323.3L233.7 324.0L235.2 324.7L236.7 325.4L238.2 326.1L239.7 326.7L241.2 327.4L242.7 328.0L244.2 328.6L245.7 329.2L247.2 329.8L248.7 330.4L250.2 331.0L251.7 331.6L253.2 332.2L254.7 332.7L256.2 333.3L257.7 333.8L259.2 334.3L260.7 334.8L262.2 335.3L263.7 335.9L265.2 336.3L266.7 336.8L268.2 337.3L269.7 337.8L271.2 338.3L272.7 338.7L274.2 339.2L275.7 339.7L277.2 340.1L278.7 340.5L280.2 341.0L281.7 341.4L283.2 341.9L284.7 342.3L286.2 342.7L287.7 343.1L289.2 343.6L290.7 344.0L292.2 344.4L293.7 344.8L295.2 345.2L296.7 345.7L298.2 346.1L299.7 346.5L301.2 346.9L302.7 347.3L304.2 347.7L305.7 348.2L307.2 348.6L308.7 349.0L310.2 349.4L311.7 349.9L313.2 350.3L314.7 350.7L316.2 351.1L317.7 351.6L319.2 352.0L320.7 352.4L322.2 352.8L323.7 353.2L325.2 353.6L326.7 354.1L328.2 354.5L329.7 354.9L331.2 355.3L332.7 355.7L334.2 356.1L335.7 356.4L337.2 356.8L338.7 357.2L340.2 357.6L341.7 357.9L343.2 358.3L344.7 358.6L346.2 359.0L347.7 359.3L349.2 359.6L350.7 359.9L352.2 360.2L353.7 360.5L355.2 360.8L356.7 361.1L358.2 361.3L359.7 361.6L361.2 361.8L362.7 362.0L364.2 362.2L365.7 362.4L367.2 362.5L368.7 362.6L370.2 362.6L371.0 362.6L371.2 362.6L371.4 362.6L371.6 362.6L371.7 362.6L371.8 362.6L372.0 362.5L372.2 362.5L372.4 362.5L372.6 362.5L372.8 362.5L373.1 362.5L373.2 362.5L373.3 362.4L373.5 362.4L373.7 362.4L373.9 362.4L374.1 362.3L374.3 362.3L374.5 362.3L374.7 362.3L374.7 362.3L374.9 362.2L375.1 362.2L375.3 362.2L375.5 362.1L375.7 362.1L375.9 362.0L376.1 362.0L376.2 362.0L376.3 361.9L376.5 361.9L376.7 361.8L376.9 361.8L377.2 361.7L377.4 361.7L377.6 361.6L377.7 361.6L377.8 361.6L378.0 361.5L378.2 361.5L378.4 361.4L378.6 361.3L378.8 361.3L379.0 361.2" fill="none" stroke="#000" stroke-width="1.70" stroke-linejoin="round" stroke-dasharray="5.6 1.9" clip-path="url(#c2)"/>
<path d="M82.0 289.5L83.5 288.1L85.0 286.7L86.5 285.3L88.0 283.9L89.5 282.4L91.0 280.9L92.5 279.4L94.0 277.8L95.5 276.2L97.0 274.6L98.5 272.9L100.0 271.2L101.5 269.5L103.0 267.6L104.5 265.8L106.0 263.9L107.5 261.9L109.0 259.9L110.5 257.9L112.0 255.7L113.5 253.5L115.0 251.2L116.5 248.8L118.0 246.4L119.5 243.8L121.0 241.1L122.5 238.3L124.0 235.4L125.5 232.3L125.9 231.5" fill="none" stroke="#2068a5" stroke-width="1.70" stroke-linejoin="round" stroke-dasharray="5.6 1.9" clip-path="url(#c2)"/>
<path d="M163.1 231.6L163.5 232.5L163.9 233.4L164.3 234.2L165.8 237.3L167.3 240.3L168.8 243.1L170.3 245.8L171.8 248.3L173.3 250.8L174.8 253.1L176.3 255.4L177.8 257.6L179.3 259.7L180.8 261.7L182.3 263.7L183.8 265.6L185.3 267.4L186.8 269.2L188.3 270.9L189.8 272.6L191.3 274.2L192.8 275.8L194.3 277.3L195.8 278.8L197.3 280.3L198.8 281.8L200.3 283.2L201.8 284.6L203.3 286.0L204.8 287.4L206.3 288.7L207.8 290.0L209.3 291.3L210.8 292.6L212.3 293.9L213.8 295.1L215.3 296.4L216.8 297.6L218.3 298.8L219.8 300.0L221.3 301.2L222.8 302.3L224.3 303.5L225.8 304.6L227.3 305.7L228.8 306.8L230.3 307.9L231.8 308.9L233.3 310.0L234.8 311.0L236.3 312.0L237.8 313.0L239.3 314.0L240.8 315.0L242.3 316.0L243.8 317.0L245.3 317.9L246.8 318.8L248.3 319.8L249.8 320.7L251.3 321.6L252.8 322.5L254.3 323.4L255.8 324.2L257.3 325.1L258.8 326.0L260.3 326.8L261.8 327.6L263.3 328.5L264.8 329.3L266.3 330.1L267.8 330.9L269.3 331.7L270.8 332.5L272.3 333.3L273.8 334.1L275.3 334.8L276.8 335.6L278.3 336.4L279.8 337.1L281.3 337.9L282.8 338.6L284.3 339.3L285.8 340.1L287.3 340.8L288.8 341.5L290.3 342.3L291.8 343.0L293.3 343.7L294.8 344.4L296.3 345.1L297.8 345.8L299.3 346.5L300.8 347.2L302.3 347.9L303.8 348.6L305.3 349.3L306.8 350.0L308.3 350.7L309.8 351.4L311.3 352.1L312.8 352.8L314.3 353.5L315.8 354.2L317.3 354.9L318.8 355.6L320.3 356.3L321.8 357.0L323.3 357.7L324.8 358.4L326.3 359.1L327.8 359.9L329.3 360.6L330.8 361.3L332.3 362.0L333.8 362.7L335.3 363.5L336.8 364.2L338.3 364.9L339.8 365.7L341.3 366.4L342.8 367.2L344.3 367.9L345.8 368.7L347.3 369.4L348.8 370.2L350.3 370.9L351.8 371.7L353.3 372.4L354.8 373.2L356.3 373.9L357.8 374.6L359.3 375.3L360.8 376.0L362.3 376.7L363.8 377.4L365.3 378.1L366.8 378.7L368.3 379.3L369.8 379.9L371.0 380.4L371.2 380.5L371.3 380.5L371.4 380.6L371.6 380.7L371.8 380.7L372.0 380.8L372.2 380.9L372.4 381.0L372.6 381.0L372.8 381.1L372.8 381.1L373.1 381.2L373.3 381.3L373.5 381.3L373.7 381.4L373.9 381.5L374.1 381.6L374.3 381.6L374.3 381.6L374.5 381.7L374.7 381.8L374.9 381.8L375.1 381.9L375.3 382.0L375.5 382.1L375.7 382.1L375.8 382.2L375.9 382.2L376.1 382.3L376.3 382.3L376.5 382.4L376.7 382.5L376.9 382.5L377.2 382.6L377.3 382.7L377.4 382.7L377.6 382.7L377.8 382.8L378.0 382.9L378.2 382.9L378.4 383.0L378.6 383.1L378.8 383.1L378.8 383.1L379.0 383.2" fill="none" stroke="#2068a5" stroke-width="1.70" stroke-linejoin="round" stroke-dasharray="5.6 1.9" clip-path="url(#c2)"/>
<path d="M387.0 289.9L388.5 288.7L390.0 287.5L391.5 286.2L393.0 284.9L394.5 283.6L396.0 282.2L397.5 280.7L399.0 279.2L400.5 277.6L402.0 275.9L403.5 274.2L405.0 272.3L406.5 270.4L408.0 268.3L409.5 266.1L409.9 265.4L410.3 264.8L410.7 264.2L411.1 263.5L411.5 262.9L411.9 262.2L412.3 261.5L412.7 260.8L413.1 260.1L413.5 259.3L413.9 258.6L414.3 257.8L414.7 257.0L415.1 256.2L415.5 255.3L415.9 254.5L416.3 253.6L416.7 252.7L417.1 251.7L417.5 250.8L417.9 249.8L418.3 248.8L418.7 247.7L419.1 246.6L419.5 245.4L419.9 244.3L420.3 243.0L420.7 241.7L421.1 240.4L421.5 239.0L421.9 237.5L422.3 235.9L422.7 234.3L422.8 233.7L423.0 233.0L423.1 232.3L423.3 231.6" fill="none" stroke="#dc143c" stroke-width="1.90" stroke-linejoin="round"  clip-path="url(#c3)"/>
<path d="M433.7 231.4L433.9 232.1L434.0 232.9L434.2 233.6L434.3 234.3L434.5 235.0L434.6 235.6L435.0 237.3L435.4 238.9L435.8 240.4L436.2 241.9L436.6 243.3L437.0 244.6L437.4 245.8L437.8 247.0L438.2 248.2L438.6 249.3L439.0 250.4L439.4 251.4L439.8 252.4L440.2 253.4L440.6 254.3L441.0 255.2L441.4 256.1L441.8 256.9L442.2 257.8L442.6 258.6L443.0 259.4L443.4 260.2L443.8 260.9L444.2 261.6L444.6 262.3L445.0 263.0L445.4 263.7L445.8 264.4L446.2 265.0L446.6 265.7L447.0 266.3L447.4 266.9L447.8 267.5L448.2 268.1L448.6 268.7L450.1 270.8L451.6 272.7L453.1 274.6L454.6 276.3L456.1 277.9L457.6 279.4L459.1 280.9L460.6 282.3L462.1 283.7L463.6 285.0L465.1 286.3L466.6 287.5L468.1 288.7L469.6 289.9L471.1 291.0L472.6 292.1L474.1 293.2L475.6 294.2L477.1 295.2L478.6 296.2L480.1 297.1L481.6 298.0L483.1 298.9L484.6 299.7L486.1 300.4L487.6 301.2L489.1 301.9L490.6 302.6L492.1 303.3L493.6 304.0L495.1 304.6L496.6 305.2L498.1 305.9L499.6 306.5L501.1 307.0L502.6 307.6L504.1 308.2L505.6 308.8L507.1 309.3L508.6 309.9L510.1 310.5L511.6 311.0L513.1 311.5L514.6 312.1L516.1 312.6L517.6 313.1L519.1 313.6L520.6 314.2L522.1 314.7L523.6 315.2L525.1 315.7L526.6 316.1L528.1 316.6L529.6 317.1L531.1 317.6L532.6 318.0L534.1 318.5L535.6 319.0L537.1 319.4L538.6 319.9L540.1 320.3L541.6 320.7L543.1 321.2L544.6 321.6L546.1 322.0L547.6 322.5L549.1 322.9L550.6 323.3L552.1 323.7L553.6 324.1L555.1 324.5L556.6 324.9L558.1 325.3L559.6 325.6L561.1 326.0L562.6 326.4L564.1 326.8L565.6 327.1L567.1 327.5L568.6 327.8L570.1 328.2L571.6 328.6L573.1 328.9L574.6 329.2L576.1 329.6L577.6 329.9L579.1 330.3L580.6 330.6L582.1 330.9L583.6 331.2L585.1 331.5L586.6 331.9L588.1 332.2L589.6 332.5L591.1 332.8L592.6 333.1L594.1 333.4L595.6 333.7L597.1 334.0L598.6 334.3L600.1 334.5L601.6 334.8L603.1 335.1L604.6 335.4L606.1 335.7L607.6 335.9L609.1 336.2L610.6 336.5L612.1 336.7L613.6 337.0L615.1 337.2L616.6 337.5L618.1 337.7L619.6 338.0L621.1 338.2L622.6 338.4L624.1 338.6L625.6 338.8L627.1 339.1L628.6 339.3L630.1 339.4L631.6 339.6L633.1 339.8L634.6 340.0L636.1 340.1L637.6 340.3L639.1 340.5L640.6 340.6L642.1 340.7L643.6 340.8L645.1 341.0L646.6 341.1L648.1 341.2L649.6 341.2L651.1 341.3L652.6 341.4L654.1 341.4L655.6 341.5L657.1 341.5L658.6 341.6L660.1 341.6L661.6 341.6L663.1 341.6L664.6 341.5L666.1 341.4L667.6 341.2L669.1 340.9L670.6 340.5L672.1 339.9L672.8 339.6L673.0 339.5L673.2 339.4L673.4 339.3L673.6 339.2L673.6 339.1L673.8 339.0L674.0 338.9L674.2 338.8L674.4 338.7L674.6 338.5L674.9 338.4L675.1 338.2L675.1 338.2L675.3 338.1L675.5 337.9L675.7 337.8L675.9 337.6L676.1 337.4L676.3 337.3L676.5 337.1L676.6 336.9L676.7 336.9L676.9 336.6L677.1 336.4L677.3 336.1L677.5 335.8L677.7 335.5L677.9 335.1L678.1 334.6L678.1 334.6L678.3 334.1L678.5 333.6L678.7 333.0L679.0 332.3L679.2 331.5L679.4 330.7L679.6 329.8L679.6 329.4L679.8 328.8L680.0 327.8L680.2 326.5L680.4 324.9L680.6 322.6L680.8 319.2" fill="none" stroke="#dc143c" stroke-width="1.90" stroke-linejoin="round"  clip-path="url(#c3)"/>
<path d="M387.0 301.1L388.5 300.1L390.0 299.0L391.5 297.9L393.0 296.7L394.5 295.5L396.0 294.2L397.5 292.9L399.0 291.5L400.5 290.0L402.0 288.4L403.5 286.7L405.0 284.9L406.5 283.0L408.0 281.0L409.5 278.8L409.9 278.2L410.3 277.5L410.7 276.9L411.1 276.2L411.5 275.6L411.9 274.9L412.3 274.2L412.7 273.4L413.1 272.7L413.5 271.9L413.9 271.1L414.3 270.3L414.7 269.4L415.1 268.6L415.5 267.7L415.9 266.7L416.3 265.8L416.7 264.8L417.1 263.8L417.5 262.7L417.9 261.6L418.3 260.4L418.7 259.2L419.1 258.0L419.5 256.6L419.9 255.3L420.3 253.8L420.7 252.3L421.1 250.7L421.5 248.9L421.9 247.1L422.3 245.1L422.4 244.4L422.6 243.6L422.7 242.8L422.9 241.9L423.0 241.1L423.2 240.2L423.3 239.2L423.5 238.3L423.6 237.3L423.8 236.3L423.9 235.2L424.1 234.1L424.2 233.0L424.4 231.8" fill="none" stroke="#000" stroke-width="1.70" stroke-linejoin="round" stroke-dasharray="5.6 1.9" clip-path="url(#c3)"/>
<path d="M431.3 231.5L431.4 232.6L431.6 233.7L431.7 234.7L431.9 235.7L432.0 236.6L432.2 237.5L432.3 238.4L432.5 239.3L432.6 240.1L432.8 240.9L432.9 241.7L433.1 242.4L433.2 243.2L433.4 243.9L433.5 244.6L433.7 245.3L433.8 246.0L434.0 246.6L434.1 247.3L434.5 248.9L434.9 250.5L435.3 252.0L435.7 253.4L436.1 254.7L436.5 256.0L436.9 257.3L437.3 258.5L437.7 259.6L438.1 260.7L438.5 261.8L438.9 262.8L439.3 263.8L439.7 264.8L440.1 265.7L440.5 266.6L440.9 267.5L441.3 268.3L441.7 269.2L442.1 270.0L442.5 270.8L442.9 271.5L443.3 272.3L443.7 273.0L444.1 273.7L444.5 274.5L444.9 275.1L445.3 275.8L445.7 276.5L446.1 277.1L446.5 277.7L446.9 278.4L447.3 279.0L447.7 279.6L448.1 280.2L449.6 282.3L451.1 284.3L452.6 286.1L454.1 287.9L455.6 289.6L457.1 291.1L458.6 292.7L460.1 294.1L461.6 295.5L463.1 296.9L464.6 298.2L466.1 299.5L467.6 300.7L469.1 302.0L470.6 303.1L472.1 304.3L473.6 305.4L475.1 306.4L476.6 307.5L478.1 308.4L479.6 309.4L481.1 310.3L482.6 311.1L484.1 311.9L485.6 312.7L487.1 313.5L488.6 314.2L490.1 314.9L491.6 315.6L493.1 316.3L494.6 316.9L496.1 317.6L497.6 318.2L499.1 318.8L500.6 319.4L502.1 320.0L503.6 320.6L505.1 321.1L506.6 321.7L508.1 322.3L509.6 322.8L511.1 323.4L512.6 323.9L514.1 324.5L515.6 325.0L517.1 325.5L518.6 326.0L520.1 326.6L521.6 327.1L523.1 327.6L524.6 328.1L526.1 328.6L527.6 329.1L529.1 329.6L530.6 330.0L532.1 330.5L533.6 331.0L535.1 331.5L536.6 331.9L538.1 332.4L539.6 332.8L541.1 333.3L542.6 333.7L544.1 334.2L545.6 334.6L547.1 335.0L548.6 335.5L550.1 335.9L551.6 336.3L553.1 336.7L554.6 337.2L556.1 337.6L557.6 338.0L559.1 338.4L560.6 338.8L562.1 339.2L563.6 339.6L565.1 340.0L566.6 340.4L568.1 340.8L569.6 341.1L571.1 341.5L572.6 341.9L574.1 342.3L575.6 342.7L577.1 343.0L578.6 343.4L580.1 343.8L581.6 344.1L583.1 344.5L584.6 344.9L586.1 345.2L587.6 345.6L589.1 345.9L590.6 346.3L592.1 346.6L593.6 347.0L595.1 347.3L596.6 347.7L598.1 348.0L599.6 348.4L601.1 348.7L602.6 349.1L604.1 349.4L605.6 349.8L607.1 350.1L608.6 350.4L610.1 350.8L611.6 351.1L613.1 351.5L614.6 351.8L616.1 352.1L617.6 352.4L619.1 352.8L620.6 353.1L622.1 353.4L623.6 353.7L625.1 354.1L626.6 354.4L628.1 354.7L629.6 355.0L631.1 355.3L632.6 355.6L634.1 355.9L635.6 356.2L637.1 356.4L638.6 356.7L640.1 357.0L641.6 357.3L643.1 357.5L644.6 357.8L646.1 358.1L647.6 358.3L649.1 358.6L650.6 358.8L652.1 359.1L653.6 359.3L655.1 359.5L656.6 359.7L658.1 359.9L659.6 360.1L661.1 360.3L662.6 360.5L664.1 360.7L665.6 360.9L667.1 361.1L668.6 361.2L670.1 361.3L671.6 361.3L673.0 361.1L673.1 361.0L673.2 361.0L673.4 361.0L673.6 360.9L673.8 360.8L674.0 360.8L674.2 360.7L674.4 360.6L674.6 360.5L674.6 360.5L674.8 360.5L675.1 360.4L675.3 360.3L675.5 360.2L675.7 360.0L675.9 359.9L676.1 359.8L676.1 359.8L676.3 359.7L676.5 359.5L676.7 359.4L676.9 359.2L677.1 359.1L677.3 358.9L677.5 358.7L677.6 358.6L677.7 358.5L677.9 358.3L678.1 358.1L678.3 357.9L678.5 357.7L678.7 357.5L678.9 357.2L679.1 357.0L679.2 357.0L679.4 356.7L679.6 356.4L679.8 355.9L680.0 355.3L680.2 354.6L680.4 353.6L680.6 352.4L680.6 352.0L680.8 351.0L681.0 349.2" fill="none" stroke="#000" stroke-width="1.70" stroke-linejoin="round" stroke-dasharray="5.6 1.9" clip-path="url(#c3)"/>
<path d="M387.0 260.0L388.5 257.8L390.0 255.5L391.5 253.3L393.0 251.0L394.5 248.7L396.0 246.5L397.5 244.2L399.0 242.0L400.5 239.8L402.0 237.6L403.5 235.5L405.0 233.5L406.5 231.6" fill="none" stroke="#2068a5" stroke-width="1.70" stroke-linejoin="round" stroke-dasharray="5.6 1.9" clip-path="url(#c3)"/>
<path d="M446.1 229.4L447.6 232.4L449.1 235.4L450.6 238.2L452.1 240.8L453.6 243.4L455.1 245.8L456.6 248.1L458.1 250.4L459.6 252.5L461.1 254.6L462.6 256.6L464.1 258.6L465.6 260.5L467.1 262.4L468.6 264.2L470.1 265.9L471.6 267.6L473.1 269.3L474.6 271.0L476.1 272.6L477.6 274.1L479.1 275.7L480.6 277.2L482.1 278.6L483.6 280.0L485.1 281.4L486.6 282.8L488.1 284.1L489.6 285.4L491.1 286.7L492.6 287.9L494.1 289.2L495.6 290.4L497.1 291.5L498.6 292.7L500.1 293.9L501.6 295.0L503.1 296.1L504.6 297.2L506.1 298.3L507.6 299.4L509.1 300.4L510.6 301.5L512.1 302.5L513.6 303.6L515.1 304.6L516.6 305.6L518.1 306.6L519.6 307.6L521.1 308.6L522.6 309.5L524.1 310.5L525.6 311.4L527.1 312.4L528.6 313.3L530.1 314.2L531.6 315.1L533.1 316.0L534.6 316.9L536.1 317.8L537.6 318.6L539.1 319.5L540.6 320.3L542.1 321.2L543.6 322.0L545.1 322.8L546.6 323.7L548.1 324.5L549.6 325.3L551.1 326.1L552.6 326.9L554.1 327.6L555.6 328.4L557.1 329.2L558.6 329.9L560.1 330.7L561.6 331.4L563.1 332.2L564.6 332.9L566.1 333.7L567.6 334.4L569.1 335.1L570.6 335.8L572.1 336.5L573.6 337.2L575.1 337.9L576.6 338.6L578.1 339.3L579.6 340.0L581.1 340.7L582.6 341.4L584.1 342.1L585.6 342.7L587.1 343.4L588.6 344.1L590.1 344.7L591.6 345.4L593.1 346.1L594.6 346.7L596.1 347.4L597.6 348.0L599.1 348.7L600.6 349.3L602.1 350.0L603.6 350.6L605.1 351.3L606.6 351.9L608.1 352.6L609.6 353.2L611.1 353.9L612.6 354.5L614.1 355.2L615.6 355.8L617.1 356.5L618.6 357.1L620.1 357.7L621.6 358.4L623.1 359.0L624.6 359.7L626.1 360.3L627.6 361.0L629.1 361.6L630.6 362.3L632.1 363.0L633.6 363.6L635.1 364.3L636.6 364.9L638.1 365.6L639.6 366.3L641.1 366.9L642.6 367.6L644.1 368.3L645.6 369.0L647.1 369.7L648.6 370.3L650.1 371.0L651.6 371.7L653.1 372.4L654.6 373.1L656.1 373.8L657.6 374.6L659.1 375.3L660.6 376.0L662.1 376.7L663.6 377.5L665.1 378.2L666.6 378.9L668.1 379.7L669.6 380.4L671.1 381.1L672.6 381.6L673.0 381.7L673.2 381.8L673.4 381.8L673.6 381.9L673.8 381.9L674.0 382.0L674.1 382.0L674.2 382.0L674.4 382.1L674.6 382.1L674.8 382.1L675.1 382.2L675.3 382.2L675.5 382.2L675.6 382.2L675.7 382.2L675.9 382.2L676.1 382.2L676.3 382.3L676.5 382.3L676.7 382.2L676.9 382.2L677.1 382.2L677.1 382.2L677.3 382.2L677.5 382.2L677.7 382.1L677.9 382.1L678.1 382.1L678.3 382.0L678.5 382.0L678.6 381.9L678.7 381.9L678.9 381.8L679.2 381.7L679.4 381.5L679.6 381.2L679.8 380.9L680.0 380.4L680.1 379.9L680.2 379.8L680.4 379.1L680.6 378.3L680.8 377.4L681.0 376.4" fill="none" stroke="#2068a5" stroke-width="1.70" stroke-linejoin="round" stroke-dasharray="5.6 1.9" clip-path="url(#c3)"/>
<path d="M82.0 408.9L84.3 408.9L86.5 408.9L88.8 408.9L91.1 408.9L93.3 408.9L95.6 408.9L97.9 408.9L100.1 408.9L102.4 408.8L104.7 408.8L106.9 408.8L109.2 408.8L111.5 408.8L113.7 408.8L116.0 408.8L118.3 408.8L120.5 408.8L122.8 408.8L125.1 408.8L127.3 408.8L129.6 408.8L131.9 408.8L134.1 408.8L136.4 408.8L138.7 408.8L140.9 408.8L143.2 408.8L145.5 408.8L147.7 408.7L150.0 408.7L152.3 408.7L154.5 408.7L156.8 408.7L159.1 408.7L161.3 408.7L163.6 408.7L165.9 408.7L168.1 408.7L170.4 408.7L172.7 408.6L174.9 408.6L177.2 408.6L179.5 408.6L181.7 408.6L184.0 408.6L186.3 408.6L188.5 408.5L190.8 408.5L193.1 408.5L195.3 408.5L197.6 408.5L199.9 408.5L202.1 408.5L204.4 408.4L206.7 408.4L208.9 408.4L211.2 408.4L213.5 408.4L215.7 408.3L218.0 408.3L220.3 408.3L222.5 408.3L224.8 408.3L227.1 408.2L229.3 408.2L231.6 408.2L233.9 408.2L236.1 408.1L238.4 408.1L240.7 408.1L242.9 408.1L245.2 408.0L247.5 408.0L249.7 408.0L252.0 407.9L254.3 407.9L256.5 407.9L258.8 407.8L261.1 407.8L263.3 407.8L265.6 407.7L267.9 407.7L270.1 407.7L272.4 407.6L274.7 407.6L276.9 407.5L279.2 407.5L281.5 407.4L283.7 407.4L286.0 407.3L288.3 407.3L290.5 407.2L292.8 407.2L295.1 407.1L297.3 407.1L299.6 407.0L301.9 406.9L304.1 406.9L306.4 406.8L308.7 406.7L310.9 406.7L313.2 406.6L315.5 406.5L317.7 406.4L320.0 406.3L322.3 406.2L324.5 406.1L326.8 406.0L329.1 405.9L331.3 405.8L333.6 405.7L335.9 405.6L338.1 405.4L340.4 405.3L342.7 405.1L344.9 405.0L347.2 404.8L349.5 404.6L351.7 404.4L352.0 404.3L352.2 404.3L352.4 404.3L352.6 404.3L352.9 404.2L353.1 404.2L353.3 404.2L353.5 404.2L353.8 404.1L354.0 404.1L354.2 404.1L354.4 404.1L354.7 404.0L354.9 404.0L355.1 404.0L355.4 404.0L355.6 403.9L355.8 403.9L356.0 403.9L356.3 403.9L356.5 403.8L356.7 403.8L356.9 403.8L357.2 403.7L357.4 403.7L357.6 403.7L357.8 403.7L358.1 403.6L358.3 403.6L358.5 403.6L358.8 403.5L359.0 403.5L359.2 403.5L359.4 403.4L359.7 403.4L359.9 403.4L360.1 403.3L360.3 403.3L360.6 403.3L360.8 403.2L361.0 403.2L361.2 403.2L361.5 403.1L361.7 403.1L361.9 403.1L362.2 403.0L362.4 403.0L362.6 403.0L362.8 402.9L363.1 402.9L363.3 402.8L363.5 402.8L363.7 402.8L364.0 402.7L364.2 402.7L364.4 402.6L364.6 402.6L364.9 402.5L365.1 402.5L365.3 402.5L365.6 402.4L365.8 402.4L366.0 402.3L366.2 402.3L366.5 402.2L366.7 402.2L366.9 402.1L367.1 402.1L367.4 402.0L367.6 402.0L367.8 401.9L368.0 401.8L368.3 401.8L368.5 401.7L368.7 401.7L369.0 401.6L369.2 401.5L369.4 401.5L369.6 401.4L369.9 401.4L370.1 401.3L370.3 401.2L370.5 401.1L370.8 401.1L371.0 401.0L371.2 400.9L371.4 400.9L371.7 400.8L371.9 400.7L372.1 400.6L372.4 400.5L372.6 400.4L372.8 400.3L373.0 400.3L373.3 400.2L373.5 400.1L373.7 400.0L373.9 399.9L374.2 399.7L374.4 399.6L374.6 399.5L374.8 399.4L375.1 399.3L375.3 399.1L375.5 399.0L375.8 398.9L376.0 398.7L376.2 398.6L376.4 398.4L376.7 398.3L376.9 398.1L377.1 397.9L377.3 397.7L377.6 397.5L377.8 397.3L378.0 397.0L378.2 396.8L378.5 396.5L378.7 396.2" fill="none" stroke="#000" stroke-width="2.10" stroke-linejoin="round"  clip-path="url(#c2)"/>
<path d="M384.0 408.9L386.2 408.9L388.5 408.9L390.8 408.9L393.0 408.9L395.2 408.9L397.5 408.9L399.8 408.9L402.0 408.9L404.2 408.8L406.5 408.8L408.8 408.8L411.0 408.8L413.2 408.8L415.5 408.8L417.8 408.8L420.0 408.8L422.2 408.8L424.5 408.8L426.8 408.8L429.0 408.8L431.2 408.8L433.5 408.8L435.8 408.8L438.0 408.8L440.2 408.8L442.5 408.8L444.8 408.8L447.0 408.8L449.2 408.7L451.5 408.7L453.8 408.7L456.0 408.7L458.2 408.7L460.5 408.7L462.8 408.7L465.0 408.7L467.2 408.7L469.5 408.7L471.8 408.7L474.0 408.6L476.2 408.6L478.5 408.6L480.8 408.6L483.0 408.6L485.2 408.6L487.5 408.6L489.8 408.5L492.0 408.5L494.2 408.5L496.5 408.5L498.8 408.5L501.0 408.5L503.2 408.5L505.5 408.4L507.8 408.4L510.0 408.4L512.2 408.4L514.5 408.4L516.8 408.3L519.0 408.3L521.2 408.3L523.5 408.3L525.8 408.3L528.0 408.2L530.2 408.2L532.5 408.2L534.8 408.2L537.0 408.1L539.2 408.1L541.5 408.1L543.8 408.1L546.0 408.0L548.2 408.0L550.5 408.0L552.8 407.9L555.0 407.9L557.2 407.9L559.5 407.8L561.8 407.8L564.0 407.8L566.2 407.7L568.5 407.7L570.8 407.7L573.0 407.6L575.2 407.6L577.5 407.5L579.8 407.5L582.0 407.4L584.2 407.4L586.5 407.3L588.8 407.3L591.0 407.2L593.2 407.2L595.5 407.1L597.8 407.1L600.0 407.0L602.2 406.9L604.5 406.9L606.8 406.8L609.0 406.7L611.2 406.7L613.5 406.6L615.8 406.5L618.0 406.4L620.2 406.3L622.5 406.2L624.8 406.1L627.0 406.0L629.2 405.9L631.5 405.8L633.8 405.7L636.0 405.6L638.2 405.4L640.5 405.3L642.8 405.1L645.0 405.0L647.2 404.8L649.5 404.6L651.8 404.4L652.0 404.3L652.2 404.3L652.4 404.3L652.6 404.3L652.9 404.2L653.1 404.2L653.3 404.2L653.5 404.2L653.8 404.1L654.0 404.1L654.2 404.1L654.5 404.1L654.7 404.0L654.9 404.0L655.1 404.0L655.4 404.0L655.6 403.9L655.8 403.9L656.0 403.9L656.2 403.9L656.5 403.8L656.7 403.8L656.9 403.8L657.2 403.7L657.4 403.7L657.6 403.7L657.8 403.7L658.0 403.6L658.3 403.6L658.5 403.6L658.7 403.5L659.0 403.5L659.2 403.5L659.4 403.4L659.6 403.4L659.8 403.4L660.1 403.3L660.3 403.3L660.5 403.3L660.8 403.2L661.0 403.2L661.2 403.2L661.4 403.1L661.6 403.1L661.9 403.1L662.1 403.0L662.3 403.0L662.5 403.0L662.8 402.9L663.0 402.9L663.2 402.8L663.5 402.8L663.7 402.8L663.9 402.7L664.1 402.7L664.4 402.6L664.6 402.6L664.8 402.5L665.0 402.5L665.2 402.5L665.5 402.4L665.7 402.4L665.9 402.3L666.2 402.3L666.4 402.2L666.6 402.2L666.8 402.1L667.0 402.1L667.3 402.0L667.5 402.0L667.7 401.9L668.0 401.8L668.2 401.8L668.4 401.7L668.6 401.7L668.8 401.6L669.1 401.5L669.3 401.5L669.5 401.4L669.8 401.4L670.0 401.3L670.2 401.2L670.4 401.1L670.6 401.1L670.9 401.0L671.1 400.9L671.3 400.9L671.5 400.8L671.8 400.7L672.0 400.6L672.2 400.5L672.5 400.4L672.7 400.3L672.9 400.3L673.1 400.2L673.4 400.1L673.6 400.0L673.8 399.9L674.0 399.7L674.2 399.6L674.5 399.5L674.7 399.4L674.9 399.3L675.2 399.1L675.4 399.0L675.6 398.9L675.8 398.7L676.0 398.6L676.3 398.4L676.5 398.3L676.7 398.1L677.0 397.9L677.2 397.7L677.4 397.5L677.6 397.3L677.8 397.0L678.1 396.8L678.3 396.5L678.5 396.2" fill="none" stroke="#000" stroke-width="2.10" stroke-linejoin="round"  clip-path="url(#c3)"/>
<rect x="82.0" y="24.5" width="296.8" height="207.5" fill="none" stroke="#000" stroke-width="2"/>
<rect x="387.0" y="24.5" width="297.0" height="207.5" fill="none" stroke="#000" stroke-width="2"/>
<rect x="82.0" y="241.3" width="296.8" height="207.8" fill="none" stroke="#000" stroke-width="2"/>
<rect x="387.0" y="241.3" width="297.0" height="207.8" fill="none" stroke="#000" stroke-width="2"/>
<path d="M96.2 232.0v-2.0M96.2 24.5v2.0M110.9 232.0v-2.0M110.9 24.5v2.0M125.7 232.0v-2.0M125.7 24.5v2.0M140.4 232.0v-3.2M140.4 24.5v3.2M155.1 232.0v-2.0M155.1 24.5v2.0M169.8 232.0v-2.0M169.8 24.5v2.0M184.5 232.0v-2.0M184.5 24.5v2.0M199.3 232.0v-3.2M199.3 24.5v3.2M214.0 232.0v-2.0M214.0 24.5v2.0M228.7 232.0v-2.0M228.7 24.5v2.0M243.4 232.0v-2.0M243.4 24.5v2.0M258.1 232.0v-3.2M258.1 24.5v3.2M272.9 232.0v-2.0M272.9 24.5v2.0M287.6 232.0v-2.0M287.6 24.5v2.0M302.3 232.0v-2.0M302.3 24.5v2.0M317.0 232.0v-3.2M317.0 24.5v3.2M331.7 232.0v-2.0M331.7 24.5v2.0M346.5 232.0v-2.0M346.5 24.5v2.0M361.2 232.0v-2.0M361.2 24.5v2.0M375.9 232.0v-3.2M375.9 24.5v3.2" stroke="#000" stroke-width="1" fill="none"/>
<path d="M387.1 232.0v-3.2M387.1 24.5v3.2M401.8 232.0v-2.0M401.8 24.5v2.0M416.5 232.0v-2.0M416.5 24.5v2.0M431.3 232.0v-2.0M431.3 24.5v2.0M446.0 232.0v-3.2M446.0 24.5v3.2M460.7 232.0v-2.0M460.7 24.5v2.0M475.4 232.0v-2.0M475.4 24.5v2.0M490.1 232.0v-2.0M490.1 24.5v2.0M504.9 232.0v-3.2M504.9 24.5v3.2M519.6 232.0v-2.0M519.6 24.5v2.0M534.3 232.0v-2.0M534.3 24.5v2.0M549.0 232.0v-2.0M549.0 24.5v2.0M563.7 232.0v-3.2M563.7 24.5v3.2M578.5 232.0v-2.0M578.5 24.5v2.0M593.2 232.0v-2.0M593.2 24.5v2.0M607.9 232.0v-2.0M607.9 24.5v2.0M622.6 232.0v-3.2M622.6 24.5v3.2M637.3 232.0v-2.0M637.3 24.5v2.0M652.1 232.0v-2.0M652.1 24.5v2.0M666.8 232.0v-2.0M666.8 24.5v2.0M681.5 232.0v-3.2M681.5 24.5v3.2" stroke="#000" stroke-width="1" fill="none"/>
<path d="M97.0 449.1v-2.0M97.0 241.3v2.0M112.0 449.1v-2.0M112.0 241.3v2.0M127.0 449.1v-2.0M127.0 241.3v2.0M141.9 449.1v-3.2M141.9 241.3v3.2M156.9 449.1v-2.0M156.9 241.3v2.0M171.9 449.1v-2.0M171.9 241.3v2.0M186.9 449.1v-2.0M186.9 241.3v2.0M201.9 449.1v-3.2M201.9 241.3v3.2M216.9 449.1v-2.0M216.9 241.3v2.0M231.8 449.1v-2.0M231.8 241.3v2.0M246.8 449.1v-2.0M246.8 241.3v2.0M261.8 449.1v-3.2M261.8 241.3v3.2M276.8 449.1v-2.0M276.8 241.3v2.0M291.8 449.1v-2.0M291.8 241.3v2.0M306.8 449.1v-2.0M306.8 241.3v2.0M321.8 449.1v-3.2M321.8 241.3v3.2M336.7 449.1v-2.0M336.7 241.3v2.0M351.7 449.1v-2.0M351.7 241.3v2.0M366.7 449.1v-2.0M366.7 241.3v2.0" stroke="#000" stroke-width="1" fill="none"/>
<path d="M398.9 449.1v-2.0M398.9 241.3v2.0M413.8 449.1v-2.0M413.8 241.3v2.0M428.6 449.1v-2.0M428.6 241.3v2.0M443.5 449.1v-3.2M443.5 241.3v3.2M458.4 449.1v-2.0M458.4 241.3v2.0M473.2 449.1v-2.0M473.2 241.3v2.0M488.1 449.1v-2.0M488.1 241.3v2.0M503.0 449.1v-3.2M503.0 241.3v3.2M517.9 449.1v-2.0M517.9 241.3v2.0M532.8 449.1v-2.0M532.8 241.3v2.0M547.6 449.1v-2.0M547.6 241.3v2.0M562.5 449.1v-3.2M562.5 241.3v3.2M577.4 449.1v-2.0M577.4 241.3v2.0M592.2 449.1v-2.0M592.2 241.3v2.0M607.1 449.1v-2.0M607.1 241.3v2.0M622.0 449.1v-3.2M622.0 241.3v3.2M636.9 449.1v-2.0M636.9 241.3v2.0M651.8 449.1v-2.0M651.8 241.3v2.0M666.6 449.1v-2.0M666.6 241.3v2.0M681.5 449.1v-3.2M681.5 241.3v3.2" stroke="#000" stroke-width="1" fill="none"/>
<path d="M82.0 232.0h3.2M378.8 232.0h-3.2M387.0 232.0h3.2M684.0 232.0h-3.2M82.0 223.4h2.0M378.8 223.4h-2.0M387.0 223.4h2.0M684.0 223.4h-2.0M82.0 214.7h2.0M378.8 214.7h-2.0M387.0 214.7h2.0M684.0 214.7h-2.0M82.0 206.1h2.0M378.8 206.1h-2.0M387.0 206.1h2.0M684.0 206.1h-2.0M82.0 197.4h3.2M378.8 197.4h-3.2M387.0 197.4h3.2M684.0 197.4h-3.2M82.0 188.8h2.0M378.8 188.8h-2.0M387.0 188.8h2.0M684.0 188.8h-2.0M82.0 180.1h2.0M378.8 180.1h-2.0M387.0 180.1h2.0M684.0 180.1h-2.0M82.0 171.5h2.0M378.8 171.5h-2.0M387.0 171.5h2.0M684.0 171.5h-2.0M82.0 162.8h3.2M378.8 162.8h-3.2M387.0 162.8h3.2M684.0 162.8h-3.2M82.0 154.2h2.0M378.8 154.2h-2.0M387.0 154.2h2.0M684.0 154.2h-2.0M82.0 145.5h2.0M378.8 145.5h-2.0M387.0 145.5h2.0M684.0 145.5h-2.0M82.0 136.9h2.0M378.8 136.9h-2.0M387.0 136.9h2.0M684.0 136.9h-2.0M82.0 128.2h3.2M378.8 128.2h-3.2M387.0 128.2h3.2M684.0 128.2h-3.2M82.0 119.6h2.0M378.8 119.6h-2.0M387.0 119.6h2.0M684.0 119.6h-2.0M82.0 111.0h2.0M378.8 111.0h-2.0M387.0 111.0h2.0M684.0 111.0h-2.0M82.0 102.3h2.0M378.8 102.3h-2.0M387.0 102.3h2.0M684.0 102.3h-2.0M82.0 93.7h3.2M378.8 93.7h-3.2M387.0 93.7h3.2M684.0 93.7h-3.2M82.0 85.0h2.0M378.8 85.0h-2.0M387.0 85.0h2.0M684.0 85.0h-2.0M82.0 76.4h2.0M378.8 76.4h-2.0M387.0 76.4h2.0M684.0 76.4h-2.0M82.0 67.7h2.0M378.8 67.7h-2.0M387.0 67.7h2.0M684.0 67.7h-2.0M82.0 59.1h3.2M378.8 59.1h-3.2M387.0 59.1h3.2M684.0 59.1h-3.2M82.0 50.4h2.0M378.8 50.4h-2.0M387.0 50.4h2.0M684.0 50.4h-2.0M82.0 41.8h2.0M378.8 41.8h-2.0M387.0 41.8h2.0M684.0 41.8h-2.0M82.0 33.1h2.0M378.8 33.1h-2.0M387.0 33.1h2.0M684.0 33.1h-2.0M82.0 24.5h3.2M378.8 24.5h-3.2M387.0 24.5h3.2M684.0 24.5h-3.2" stroke="#000" stroke-width="1" fill="none"/>
<text transform="translate(185.20,16.30) scale(1.000,1.060)" font-size="22.0" textLength="88.5" lengthAdjust="spacingAndGlyphs">Dirichlet</text>
<text transform="translate(486.20,16.30) scale(1.000,1.060)" font-size="22.0" textLength="100.0" lengthAdjust="spacingAndGlyphs">Neumann</text>
<text transform="translate(46.30,36.20) scale(1.000,1.110)" font-size="25.5" textLength="32.4" lengthAdjust="spacingAndGlyphs">1.0</text>
<text transform="translate(46.30,70.78) scale(1.000,1.110)" font-size="25.5" textLength="32.4" lengthAdjust="spacingAndGlyphs">0.8</text>
<text transform="translate(46.30,105.37) scale(1.000,1.110)" font-size="25.5" textLength="32.4" lengthAdjust="spacingAndGlyphs">0.6</text>
<text transform="translate(46.30,139.95) scale(1.000,1.110)" font-size="25.5" textLength="32.4" lengthAdjust="spacingAndGlyphs">0.4</text>
<text transform="translate(46.30,174.53) scale(1.000,1.110)" font-size="25.5" textLength="32.4" lengthAdjust="spacingAndGlyphs">0.2</text>
<text transform="translate(46.30,209.12) scale(1.000,1.110)" font-size="25.5" textLength="32.4" lengthAdjust="spacingAndGlyphs">0.0</text>
<text transform="translate(32.20,244.00) scale(1.000,1.110)" font-size="21.0" font-weight="bold">−</text>
<text transform="translate(46.30,242.70) scale(1.000,1.110)" font-size="25.5" textLength="32.4" lengthAdjust="spacingAndGlyphs">0.2</text>
<text transform="translate(65.60,481.60) scale(1.000,1.110)" font-size="25.5" textLength="32.4" lengthAdjust="spacingAndGlyphs">0.0</text>
<text transform="translate(125.54,481.60) scale(1.000,1.110)" font-size="25.5" textLength="32.4" lengthAdjust="spacingAndGlyphs">0.2</text>
<text transform="translate(185.48,481.60) scale(1.000,1.110)" font-size="25.5" textLength="32.4" lengthAdjust="spacingAndGlyphs">0.4</text>
<text transform="translate(245.42,481.60) scale(1.000,1.110)" font-size="25.5" textLength="32.4" lengthAdjust="spacingAndGlyphs">0.6</text>
<text transform="translate(305.36,481.60) scale(1.000,1.110)" font-size="25.5" textLength="32.4" lengthAdjust="spacingAndGlyphs">0.8</text>
<text transform="translate(427.10,481.60) scale(1.000,1.110)" font-size="25.5" textLength="32.4" lengthAdjust="spacingAndGlyphs">0.2</text>
<text transform="translate(486.60,481.60) scale(1.000,1.110)" font-size="25.5" textLength="32.4" lengthAdjust="spacingAndGlyphs">0.4</text>
<text transform="translate(546.10,481.60) scale(1.000,1.110)" font-size="25.5" textLength="32.4" lengthAdjust="spacingAndGlyphs">0.6</text>
<text transform="translate(605.60,481.60) scale(1.000,1.110)" font-size="25.5" textLength="32.4" lengthAdjust="spacingAndGlyphs">0.8</text>
<text transform="translate(665.10,481.60) scale(1.000,1.110)" font-size="25.5" textLength="32.4" lengthAdjust="spacingAndGlyphs">1.0</text>
<text transform="translate(44.00,295.00) scale(1.000,1.110)" font-size="25.5" textLength="26.0" lengthAdjust="spacingAndGlyphs">10</text>
<text transform="translate(70.00,285.40) scale(1.000,1.110)" font-size="17.0">8</text>
<text transform="translate(44.00,355.60) scale(1.000,1.110)" font-size="25.5" textLength="26.0" lengthAdjust="spacingAndGlyphs">10</text>
<text transform="translate(70.00,346.00) scale(1.000,1.110)" font-size="17.0">5</text>
<text transform="translate(41.60,419.00) scale(1.000,1.110)" font-size="25.5" textLength="37.6" lengthAdjust="spacingAndGlyphs">100</text>
<text transform="translate(19.80,157.60) rotate(-90) scale(1.000,1.040)" font-size="21.0" class="sf" stroke="#000" stroke-width="0.35">ω</text>
<text transform="translate(24.40,136.80) rotate(-90) scale(1.450,1.000)" font-size="17.0" font-style="italic">R</text>
<text transform="translate(19.70,122.40) rotate(-90) scale(1.000,1.200)" font-size="26.0">M</text>
<text transform="translate(28.30,364.50) rotate(-90) scale(0.750,1.040)" font-size="21.0" class="sf" stroke="#000" stroke-width="0.35">τ</text>
<text transform="translate(30.40,355.40) rotate(-90)" font-size="29.0">/</text>
<text transform="translate(28.10,348.80) rotate(-90) scale(1.000,1.140)" font-size="26.0">M</text>
<text transform="translate(222.60,527.60)" font-size="25.6" class="sf" stroke="#000" stroke-width="0.35">χ</text>
<text transform="translate(528.00,527.60)" font-size="25.6" class="sf" stroke="#000" stroke-width="0.35">χ</text>
<path d="M91.6 52.5H128.4" stroke="#dc143c" stroke-width="1.9"/>
<path d="M91.6 77.2H128.4" stroke="#000" stroke-width="1.9" stroke-dasharray="5.7 1.73"/>
<path d="M91.6 102.2H128.4" stroke="#2068a5" stroke-width="1.9" stroke-dasharray="5.7 1.73"/>
<text transform="translate(133.60,56.10) scale(1.000,1.060)" font-size="19.5" textLength="56.0" lengthAdjust="spacingAndGlyphs">scalar,</text>
<text transform="translate(197.0,56.1) scale(1,1.06)" font-size="19.5" textLength="52.4" lengthAdjust="spacingAndGlyphs">l<tspan class="sn" font-size="14" font-weight="bold">=</tspan>m<tspan class="sn" font-size="14" font-weight="bold">=</tspan>1</text>
<text transform="translate(133.60,81.40) scale(1.000,1.060)" font-size="19.5" textLength="37.2" lengthAdjust="spacingAndGlyphs">EM,</text>
<text transform="translate(179.2,81.4) scale(1,1.06)" font-size="19.5" textLength="52.4" lengthAdjust="spacingAndGlyphs">l<tspan class="sn" font-size="14" font-weight="bold">=</tspan>m<tspan class="sn" font-size="14" font-weight="bold">=</tspan>1</text>
<text transform="translate(133.60,105.20) scale(1.000,1.060)" font-size="19.5" textLength="44.0" lengthAdjust="spacingAndGlyphs">grav,</text>
<text transform="translate(185.4,105.2) scale(1,1.06)" font-size="19.5" textLength="52.4" lengthAdjust="spacingAndGlyphs">l<tspan class="sn" font-size="14" font-weight="bold">=</tspan>m<tspan class="sn" font-size="14" font-weight="bold">=</tspan>2</text>
<text transform="translate(113.60,401.00) scale(0.660,1.000)" font-size="12.6" class="sf">τ</text>
<text transform="translate(118.60,403.00)" font-size="10.7" textLength="19.8" lengthAdjust="spacingAndGlyphs">echo</text>
<text transform="translate(138.20,401.40)" font-size="10.2" class="sn" font-weight="bold">~</text>
<text transform="translate(146.60,400.80)" font-size="14.5">2M(1</text>
<text transform="translate(177.90,400.20)" font-size="9.4" class="sn" font-weight="bold">+</text>
<text transform="translate(186.40,400.80)" font-size="14.5">(1</text>
<text transform="translate(197.90,400.20)" font-size="9.4" class="sn" font-weight="bold">−</text>
<text transform="translate(205.30,400.80)" font-size="13.6" class="sf">χ</text>
<text transform="translate(213.70,395.50)" font-size="9.4">2</text>
<text transform="translate(218.90,400.80)" font-size="14.5">)</text>
<text transform="translate(222.80,395.80)" font-size="7.0" class="sn" font-weight="bold">−</text>
<text transform="translate(228.60,395.80)" font-size="9.4" textLength="12.6" lengthAdjust="spacingAndGlyphs">1/2</text>
<text transform="translate(241.70,400.80)" font-size="14.5">)</text>
<text transform="translate(251.20,400.80)" font-size="14.5">|</text>
<text transform="translate(254.80,400.80)" font-size="14.5" textLength="18.4" lengthAdjust="spacingAndGlyphs">log</text>
<text transform="translate(278.20,400.80) scale(0.900,1.000)" font-size="12.6" class="sf">ϵ</text>
<text transform="translate(284.80,400.80)" font-size="14.5">|</text>
<text transform="translate(419.10,401.00) scale(0.660,1.000)" font-size="12.6" class="sf">τ</text>
<text transform="translate(424.10,403.00)" font-size="10.7" textLength="19.8" lengthAdjust="spacingAndGlyphs">echo</text>
<text transform="translate(443.70,401.40)" font-size="10.2" class="sn" font-weight="bold">~</text>
<text transform="translate(452.10,400.80)" font-size="14.5">2M(1</text>
<text transform="translate(483.40,400.20)" font-size="9.4" class="sn" font-weight="bold">+</text>
<text transform="translate(491.90,400.80)" font-size="14.5">(1</text>
<text transform="translate(503.40,400.20)" font-size="9.4" class="sn" font-weight="bold">−</text>
<text transform="translate(510.80,400.80)" font-size="13.6" class="sf">χ</text>
<text transform="translate(519.20,395.50)" font-size="9.4">2</text>
<text transform="translate(524.40,400.80)" font-size="14.5">)</text>
<text transform="translate(528.30,395.80)" font-size="7.0" class="sn" font-weight="bold">−</text>
<text transform="translate(534.10,395.80)" font-size="9.4" textLength="12.6" lengthAdjust="spacingAndGlyphs">1/2</text>
<text transform="translate(547.20,400.80)" font-size="14.5">)</text>
<text transform="translate(556.70,400.80)" font-size="14.5">|</text>
<text transform="translate(560.30,400.80)" font-size="14.5" textLength="18.4" lengthAdjust="spacingAndGlyphs">log</text>
<text transform="translate(583.70,400.80) scale(0.900,1.000)" font-size="12.6" class="sf">ϵ</text>
<text transform="translate(590.30,400.80)" font-size="14.5">|</text>
</svg></body></html>
